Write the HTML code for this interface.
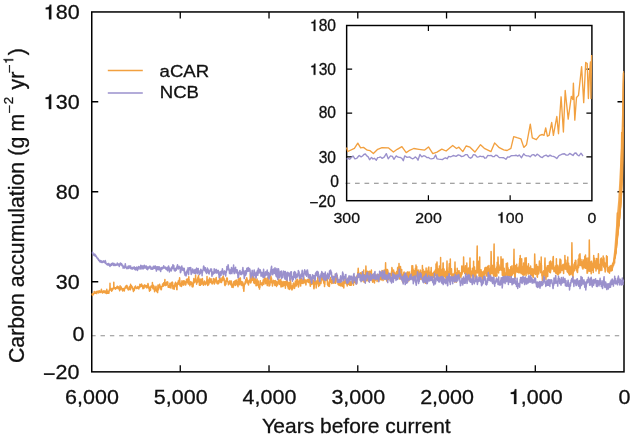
<!DOCTYPE html>
<html><head><meta charset="utf-8"><style>
html,body{margin:0;padding:0;background:#fff;width:632px;height:438px;overflow:hidden}
text{font-family:"Liberation Sans", sans-serif}
svg{will-change:transform}
</style></head><body>
<svg width="632" height="438" viewBox="0 0 632 438" style="display:block"><rect width="632" height="438" fill="#fff"/><line x1="91.2" y1="335.75" x2="623.0" y2="335.75" stroke="#8e8e8e" stroke-width="1.05" stroke-dasharray="4.4 4.95"/><rect x="91.75" y="11.95" width="532.25" height="359.90000000000003" fill="none" stroke="#000" stroke-width="1.5"/><path d="M180.26 371.85V365.35M180.26 11.95V18.45M269.02 371.85V365.35M269.02 11.95V18.45M357.78 371.85V365.35M357.78 11.95V18.45M446.54 371.85V365.35M446.54 11.95V18.45M535.30 371.85V365.35M535.30 11.95V18.45M91.75 101.75H98.25M624.0 101.75H617.5M91.75 191.75H98.25M624.0 191.75H617.5M91.75 281.75H98.25M624.0 281.75H617.5" stroke="#000" stroke-width="1.3" fill="none"/><polyline fill="none" stroke="#F2A03F" stroke-width="1.5" stroke-linejoin="round" points="92.0,294.1 92.2,294.8 92.3,294.0 92.4,293.4 92.6,295.4 92.7,294.9 92.8,294.4 93.0,294.3 93.1,294.7 93.2,293.7 93.4,293.8 93.5,293.7 93.6,294.0 93.8,293.9 93.9,293.4 94.0,292.9 94.2,291.6 94.3,292.6 94.4,291.9 94.6,292.0 94.7,293.2 94.8,292.9 95.0,293.2 95.1,292.9 95.2,293.2 95.4,293.1 95.5,292.6 95.6,293.3 95.8,292.9 95.9,292.0 96.0,291.9 96.2,292.3 96.3,291.6 96.4,292.2 96.6,292.5 96.7,293.6 96.8,292.7 97.0,292.8 97.1,291.6 97.2,291.4 97.4,291.6 97.5,291.9 97.6,291.8 97.8,291.7 97.9,291.4 98.0,291.2 98.2,291.5 98.3,291.8 98.4,292.1 98.6,292.5 98.7,292.9 98.8,291.4 99.0,291.1 99.1,291.1 99.2,290.8 99.4,291.5 99.5,291.9 99.6,291.6 99.8,291.6 99.9,292.2 100.0,291.7 100.2,291.3 100.3,291.8 100.4,291.8 100.6,292.4 100.7,292.2 100.8,292.2 101.0,291.5 101.1,290.8 101.2,290.8 101.4,289.3 101.5,290.0 101.6,290.8 101.8,290.9 101.9,290.8 102.0,291.5 102.2,291.4 102.3,291.9 102.4,292.9 102.5,292.8 102.7,292.9 102.8,292.6 102.9,292.4 103.1,292.2 103.2,291.9 103.3,292.4 103.5,291.1 103.6,291.0 103.7,291.5 103.9,291.0 104.0,291.0 104.1,290.7 104.3,291.2 104.4,291.8 104.5,292.5 104.7,292.5 104.8,291.8 104.9,291.9 105.1,292.2 105.2,293.0 105.3,291.4 105.5,291.9 105.6,290.9 105.7,291.7 105.9,292.2 106.0,292.6 106.1,293.1 106.3,293.2 106.4,292.7 106.5,292.9 106.7,293.6 106.8,289.3 106.9,293.3 107.1,292.6 107.2,293.3 107.3,292.7 107.5,292.1 107.6,291.8 107.7,291.3 107.9,291.3 108.0,292.1 108.1,292.4 108.3,292.9 108.4,293.3 108.5,292.0 108.7,291.9 108.8,292.4 108.9,293.2 109.1,291.5 109.2,290.2 109.3,290.4 109.5,290.0 109.6,289.3 109.7,289.6 109.9,289.0 110.0,283.3 110.1,288.2 110.3,288.7 110.4,289.4 110.5,290.0 110.7,290.0 110.8,289.8 110.9,289.3 111.1,288.4 111.2,288.5 111.3,289.5 111.5,290.0 111.6,291.2 111.7,290.6 111.9,289.3 112.0,289.9 112.1,290.5 112.3,289.6 112.4,288.7 112.5,289.1 112.6,289.8 112.8,289.1 112.9,289.0 113.0,288.7 113.2,288.2 113.3,287.7 113.4,288.3 113.6,288.4 113.7,288.2 113.8,282.2 114.0,288.6 114.1,288.1 114.2,288.3 114.4,287.8 114.5,288.3 114.6,287.5 114.8,287.9 114.9,288.0 115.0,288.7 115.2,287.9 115.3,287.7 115.4,287.7 115.6,289.2 115.7,287.9 115.8,288.2 116.0,287.7 116.1,288.0 116.2,288.3 116.4,288.3 116.5,288.3 116.6,288.2 116.8,287.7 116.9,287.5 117.0,286.4 117.2,286.4 117.3,286.2 117.4,286.3 117.6,287.2 117.7,287.6 117.8,287.9 118.0,288.6 118.1,286.8 118.2,287.4 118.4,287.6 118.5,287.6 118.6,286.9 118.8,287.6 118.9,288.5 119.0,289.1 119.2,288.8 119.3,289.1 119.4,289.5 119.6,290.4 119.7,290.7 119.8,290.1 120.0,289.7 120.1,285.7 120.2,289.4 120.4,288.8 120.5,289.3 120.6,288.7 120.8,288.2 120.9,288.6 121.0,288.3 121.2,288.3 121.3,287.1 121.4,288.2 121.6,288.4 121.7,288.5 121.8,288.9 122.0,289.1 122.1,288.6 122.2,290.1 122.4,289.5 122.5,290.0 122.6,291.0 122.7,290.1 122.9,289.9 123.0,289.2 123.1,289.9 123.3,289.3 123.4,288.4 123.5,289.4 123.7,289.7 123.8,288.7 123.9,289.4 124.1,289.2 124.2,290.7 124.3,291.0 124.5,289.7 124.6,289.0 124.7,288.0 124.9,288.0 125.0,287.9 125.1,288.2 125.3,288.0 125.4,286.8 125.5,286.3 125.7,287.5 125.8,288.1 125.9,287.6 126.1,287.2 126.2,286.9 126.3,286.8 126.5,285.5 126.6,286.6 126.7,286.5 126.9,287.0 127.0,285.6 127.1,286.6 127.3,288.1 127.4,286.8 127.5,288.5 127.7,289.0 127.8,288.7 127.9,287.9 128.1,289.3 128.2,289.8 128.3,290.0 128.5,289.6 128.6,288.8 128.7,289.5 128.9,288.6 129.0,289.2 129.1,287.9 129.3,287.4 129.4,286.6 129.5,288.0 129.7,286.8 129.8,286.3 129.9,287.2 130.1,287.5 130.2,289.0 130.3,289.8 130.5,289.5 130.6,284.3 130.7,287.3 130.9,286.6 131.0,286.4 131.1,286.4 131.3,285.8 131.4,285.7 131.5,285.7 131.7,287.1 131.8,287.7 131.9,287.6 132.1,287.7 132.2,288.1 132.3,287.8 132.5,287.9 132.6,287.0 132.7,288.2 132.8,289.2 133.0,289.5 133.1,289.9 133.2,290.1 133.4,291.5 133.5,291.0 133.6,289.6 133.8,288.7 133.9,289.3 134.0,290.0 134.2,290.2 134.3,290.4 134.4,290.0 134.6,288.6 134.7,288.1 134.8,286.9 135.0,287.1 135.1,286.5 135.2,287.0 135.4,287.2 135.5,286.1 135.6,287.2 135.8,287.9 135.9,286.9 136.0,287.2 136.2,287.8 136.3,287.5 136.4,288.1 136.6,288.0 136.7,288.5 136.8,288.3 137.0,287.9 137.1,288.1 137.2,288.4 137.4,288.3 137.5,287.6 137.6,287.0 137.8,286.8 137.9,286.5 138.0,286.9 138.2,287.1 138.3,287.1 138.4,287.1 138.6,287.3 138.7,288.4 138.8,288.9 139.0,287.9 139.1,288.0 139.2,287.5 139.4,287.3 139.5,287.0 139.6,286.5 139.8,285.7 139.9,284.2 140.0,285.2 140.2,286.6 140.3,286.0 140.4,286.6 140.6,286.4 140.7,286.7 140.8,286.1 141.0,286.2 141.1,286.3 141.2,284.6 141.4,285.4 141.5,285.7 141.6,284.1 141.8,285.4 141.9,285.7 142.0,286.2 142.2,286.6 142.3,286.3 142.4,285.6 142.6,285.5 142.7,285.5 142.8,287.6 142.9,288.8 143.1,287.8 143.2,287.1 143.3,287.3 143.5,287.5 143.6,286.7 143.7,285.9 143.9,287.7 144.0,288.3 144.1,286.6 144.3,285.2 144.4,285.0 144.5,285.7 144.7,286.5 144.8,286.3 144.9,285.1 145.1,285.8 145.2,286.7 145.3,286.7 145.5,286.4 145.6,287.0 145.7,287.0 145.9,286.0 146.0,286.4 146.1,285.4 146.3,286.7 146.4,287.2 146.5,286.3 146.7,286.7 146.8,287.9 146.9,285.8 147.1,286.0 147.2,287.7 147.3,286.2 147.5,286.3 147.6,285.3 147.7,285.7 147.9,284.0 148.0,283.5 148.1,284.1 148.3,285.1 148.4,286.0 148.5,286.7 148.7,287.8 148.8,288.2 148.9,288.6 149.1,287.2 149.2,287.0 149.3,290.0 149.5,291.2 149.6,290.7 149.7,290.3 149.9,290.3 150.0,289.0 150.1,290.3 150.3,289.1 150.4,288.5 150.5,290.2 150.7,287.5 150.8,287.9 150.9,286.2 151.1,286.0 151.2,286.4 151.3,286.5 151.5,287.1 151.6,286.6 151.7,286.9 151.9,286.1 152.0,286.3 152.1,285.5 152.3,286.9 152.4,282.5 152.5,287.4 152.7,287.3 152.8,287.3 152.9,288.8 153.0,288.8 153.2,286.8 153.3,287.8 153.4,285.2 153.6,286.4 153.7,286.7 153.8,285.9 154.0,286.8 154.1,287.1 154.2,289.6 154.4,288.9 154.5,290.8 154.6,291.7 154.8,290.2 154.9,289.0 155.0,290.3 155.2,289.8 155.3,289.7 155.4,289.2 155.6,287.9 155.7,287.9 155.8,287.3 156.0,286.2 156.1,286.8 156.2,289.4 156.4,291.0 156.5,290.4 156.6,290.2 156.8,290.5 156.9,291.6 157.0,291.2 157.2,290.0 157.3,289.3 157.4,290.3 157.6,292.6 157.7,290.7 157.8,287.8 158.0,285.0 158.1,288.6 158.2,288.6 158.4,289.8 158.5,289.3 158.6,287.4 158.8,285.4 158.9,286.0 159.0,285.2 159.2,286.2 159.3,285.1 159.4,285.4 159.6,284.3 159.7,284.8 159.8,285.0 160.0,286.2 160.1,287.9 160.2,287.4 160.4,286.2 160.5,288.6 160.6,288.4 160.8,288.5 160.9,288.6 161.0,289.6 161.2,289.8 161.3,289.5 161.4,289.4 161.6,287.5 161.7,286.4 161.8,286.2 162.0,286.2 162.1,286.2 162.2,286.5 162.4,286.3 162.5,285.7 162.6,283.9 162.8,285.4 162.9,286.1 163.0,285.0 163.1,285.7 163.3,286.1 163.4,286.0 163.5,283.7 163.7,282.8 163.8,282.9 163.9,285.5 164.1,284.4 164.2,284.2 164.3,283.2 164.5,283.2 164.6,284.1 164.7,282.0 164.9,279.5 165.0,281.9 165.1,282.8 165.3,282.7 165.4,284.4 165.5,285.6 165.7,282.8 165.8,283.1 165.9,284.8 166.1,283.9 166.2,283.7 166.3,285.2 166.5,284.7 166.6,283.3 166.7,282.9 166.9,281.9 167.0,283.4 167.1,281.8 167.3,283.9 167.4,282.2 167.5,283.1 167.7,281.9 167.8,282.4 167.9,284.4 168.1,285.9 168.2,287.2 168.3,286.4 168.5,286.1 168.6,286.0 168.7,286.4 168.9,285.5 169.0,286.6 169.1,286.5 169.3,287.4 169.4,287.2 169.5,287.4 169.7,285.7 169.8,284.9 169.9,283.3 170.1,283.4 170.2,283.6 170.3,285.0 170.5,283.4 170.6,287.8 170.7,286.8 170.9,287.7 171.0,288.1 171.1,284.0 171.3,283.9 171.4,286.0 171.5,282.6 171.7,284.2 171.8,283.3 171.9,283.2 172.1,283.9 172.2,281.9 172.3,283.0 172.5,282.8 172.6,282.5 172.7,284.1 172.9,288.8 173.0,288.1 173.1,287.8 173.2,286.9 173.4,285.4 173.5,285.7 173.6,287.4 173.8,287.0 173.9,287.5 174.0,286.5 174.2,289.3 174.3,286.0 174.4,286.5 174.6,286.8 174.7,286.7 174.8,284.9 175.0,283.5 175.1,283.7 175.2,284.3 175.4,283.0 175.5,282.3 175.6,283.9 175.8,285.6 175.9,284.7 176.0,283.9 176.2,283.3 176.3,287.1 176.4,287.1 176.6,286.4 176.7,287.3 176.8,289.6 177.0,289.7 177.1,286.4 177.2,285.9 177.4,285.1 177.5,284.6 177.6,283.1 177.8,283.1 177.9,282.2 178.0,283.4 178.2,283.9 178.3,282.2 178.4,280.7 178.6,281.3 178.7,283.1 178.8,284.2 179.0,284.2 179.1,279.9 179.2,280.6 179.4,280.7 179.5,281.3 179.6,277.7 179.8,281.0 179.9,281.1 180.0,285.6 180.2,286.0 180.3,285.1 180.4,284.6 180.6,284.2 180.7,284.3 180.8,283.5 181.0,283.5 181.1,284.8 181.2,285.5 181.4,285.3 181.5,286.4 181.6,285.8 181.8,283.6 181.9,281.1 182.0,280.7 182.2,281.3 182.3,282.3 182.4,283.9 182.6,282.8 182.7,281.7 182.8,283.1 183.0,284.6 183.1,283.3 183.2,283.6 183.3,285.2 183.5,284.9 183.6,284.1 183.7,280.8 183.9,283.2 184.0,283.9 184.1,283.7 184.3,282.8 184.4,281.0 184.5,281.4 184.7,281.7 184.8,283.5 184.9,281.6 185.1,284.0 185.2,283.7 185.3,285.1 185.5,283.0 185.6,283.5 185.7,285.0 185.9,284.5 186.0,282.0 186.1,281.8 186.3,282.9 186.4,280.9 186.5,279.5 186.7,280.9 186.8,280.2 186.9,282.0 187.1,280.6 187.2,278.8 187.3,279.0 187.5,282.3 187.6,281.3 187.7,281.8 187.9,282.6 188.0,281.4 188.1,283.5 188.3,283.6 188.4,284.1 188.5,281.5 188.7,279.5 188.8,276.7 188.9,278.4 189.1,279.5 189.2,281.7 189.3,284.3 189.5,283.6 189.6,283.1 189.7,283.8 189.9,285.8 190.0,283.9 190.1,284.6 190.3,283.8 190.4,283.1 190.5,284.3 190.7,282.8 190.8,281.4 190.9,282.8 191.1,282.9 191.2,282.5 191.3,282.5 191.5,283.3 191.6,282.6 191.7,283.8 191.9,284.1 192.0,285.8 192.1,286.7 192.3,286.7 192.4,285.2 192.5,284.5 192.7,283.0 192.8,287.0 192.9,285.3 193.1,285.2 193.2,286.3 193.3,283.0 193.4,281.5 193.6,281.1 193.7,279.9 193.8,278.6 194.0,278.9 194.1,281.7 194.2,282.8 194.4,282.6 194.5,282.4 194.6,279.7 194.8,281.4 194.9,282.1 195.0,280.4 195.2,281.1 195.3,281.0 195.4,280.4 195.6,275.1 195.7,279.0 195.8,278.4 196.0,280.1 196.1,281.1 196.2,281.7 196.4,281.4 196.5,280.9 196.6,284.2 196.8,280.6 196.9,282.7 197.0,282.9 197.2,282.6 197.3,281.5 197.4,281.2 197.6,279.5 197.7,278.0 197.8,278.8 198.0,277.1 198.1,279.6 198.2,281.8 198.4,276.4 198.5,275.5 198.6,277.7 198.8,279.0 198.9,279.9 199.0,280.9 199.2,282.1 199.3,283.2 199.4,285.3 199.6,284.1 199.7,284.5 199.8,281.0 200.0,280.8 200.1,279.0 200.2,281.8 200.4,285.2 200.5,284.8 200.6,281.7 200.8,281.4 200.9,281.4 201.0,281.7 201.2,283.3 201.3,284.2 201.4,279.3 201.6,282.1 201.7,281.2 201.8,280.4 202.0,283.0 202.1,282.2 202.2,280.0 202.4,278.5 202.5,279.6 202.6,281.7 202.8,284.2 202.9,283.3 203.0,282.2 203.2,284.7 203.3,283.3 203.4,285.3 203.5,284.8 203.7,284.5 203.8,283.5 203.9,283.7 204.1,282.6 204.2,281.6 204.3,281.7 204.5,281.0 204.6,282.0 204.7,282.3 204.9,282.1 205.0,282.0 205.1,281.8 205.3,284.8 205.4,284.2 205.5,282.8 205.7,282.4 205.8,283.5 205.9,283.0 206.1,282.7 206.2,282.3 206.3,282.7 206.5,283.3 206.6,283.8 206.7,280.9 206.9,279.8 207.0,276.6 207.1,279.6 207.3,282.2 207.4,284.3 207.5,284.0 207.7,285.4 207.8,284.5 207.9,283.7 208.1,281.0 208.2,280.2 208.3,280.0 208.5,282.2 208.6,284.8 208.7,283.4 208.9,283.7 209.0,283.8 209.1,282.2 209.3,279.6 209.4,279.3 209.5,278.0 209.7,278.9 209.8,279.7 209.9,280.2 210.1,280.6 210.2,281.9 210.3,280.6 210.5,282.5 210.6,279.9 210.7,280.7 210.9,281.8 211.0,280.7 211.1,278.7 211.3,280.8 211.4,280.1 211.5,282.0 211.7,283.2 211.8,282.8 211.9,282.6 212.1,283.9 212.2,283.9 212.3,281.9 212.5,282.1 212.6,282.9 212.7,282.8 212.9,282.8 213.0,282.2 213.1,281.8 213.3,280.3 213.4,278.4 213.5,281.1 213.6,280.2 213.8,280.9 213.9,278.7 214.0,279.7 214.2,278.9 214.3,284.1 214.4,281.7 214.6,280.0 214.7,281.8 214.8,283.3 215.0,279.4 215.1,280.3 215.2,281.9 215.4,279.8 215.5,281.2 215.6,280.4 215.8,279.0 215.9,279.1 216.0,279.0 216.2,277.5 216.3,282.1 216.4,281.1 216.6,280.0 216.7,281.7 216.8,281.4 217.0,283.4 217.1,282.4 217.2,282.6 217.4,282.4 217.5,282.3 217.6,281.7 217.8,281.4 217.9,284.0 218.0,282.2 218.2,281.1 218.3,280.7 218.4,281.8 218.6,282.3 218.7,283.4 218.8,280.8 219.0,281.3 219.1,281.1 219.2,280.7 219.4,281.1 219.5,278.1 219.6,279.5 219.8,280.2 219.9,278.3 220.0,279.0 220.2,282.1 220.3,281.2 220.4,282.1 220.6,281.4 220.7,280.1 220.8,278.9 221.0,278.9 221.1,281.5 221.2,282.6 221.4,281.0 221.5,282.5 221.6,281.8 221.8,280.5 221.9,281.2 222.0,279.7 222.2,277.6 222.3,280.6 222.4,277.8 222.6,279.5 222.7,277.5 222.8,278.5 223.0,278.8 223.1,278.7 223.2,276.0 223.4,277.2 223.5,278.2 223.6,277.6 223.7,278.4 223.9,280.7 224.0,279.6 224.1,280.3 224.3,278.7 224.4,279.9 224.5,281.2 224.7,284.9 224.8,285.1 224.9,284.5 225.1,285.6 225.2,282.7 225.3,283.8 225.5,282.2 225.6,280.9 225.7,282.7 225.9,282.6 226.0,284.2 226.1,281.1 226.3,281.6 226.4,280.8 226.5,280.6 226.7,278.0 226.8,280.5 226.9,281.2 227.1,279.9 227.2,278.4 227.3,278.1 227.5,281.4 227.6,281.5 227.7,281.2 227.9,282.2 228.0,282.3 228.1,282.7 228.3,283.7 228.4,283.9 228.5,284.8 228.7,282.3 228.8,282.5 228.9,282.0 229.1,282.4 229.2,282.5 229.3,281.6 229.5,281.5 229.6,283.4 229.7,282.4 229.9,280.7 230.0,282.3 230.1,284.0 230.3,283.3 230.4,283.4 230.5,282.0 230.7,282.0 230.8,284.0 230.9,285.0 231.1,284.6 231.2,283.7 231.3,281.0 231.5,282.1 231.6,283.1 231.7,284.6 231.9,287.2 232.0,286.5 232.1,286.9 232.3,284.0 232.4,285.5 232.5,286.0 232.7,287.1 232.8,286.8 232.9,286.3 233.1,287.5 233.2,285.0 233.3,285.3 233.5,286.1 233.6,283.9 233.7,281.7 233.8,282.6 234.0,282.8 234.1,283.6 234.2,284.3 234.4,282.5 234.5,283.0 234.6,284.6 234.8,283.4 234.9,282.6 235.0,280.8 235.2,282.5 235.3,285.5 235.4,282.4 235.6,283.6 235.7,284.6 235.8,283.0 236.0,282.2 236.1,280.7 236.2,280.0 236.4,280.9 236.5,282.3 236.6,282.5 236.8,283.7 236.9,283.6 237.0,281.4 237.2,283.9 237.3,285.2 237.4,283.2 237.6,281.9 237.7,285.3 237.8,284.5 238.0,286.7 238.1,281.5 238.2,279.2 238.4,281.2 238.5,281.0 238.6,279.9 238.8,278.5 238.9,283.3 239.0,281.0 239.2,280.3 239.3,282.1 239.4,284.7 239.6,280.8 239.7,281.6 239.8,281.1 240.0,278.7 240.1,279.4 240.2,277.7 240.4,278.2 240.5,281.8 240.6,282.7 240.8,283.7 240.9,284.1 241.0,284.1 241.2,285.0 241.3,282.4 241.4,281.8 241.6,283.3 241.7,281.9 241.8,281.4 242.0,283.6 242.1,285.6 242.2,283.8 242.4,282.2 242.5,283.3 242.6,283.6 242.8,282.3 242.9,283.4 243.0,284.1 243.2,283.9 243.3,288.2 243.4,288.7 243.6,288.3 243.7,288.3 243.8,291.3 243.9,290.5 244.1,287.2 244.2,286.5 244.3,285.6 244.5,284.0 244.6,284.1 244.7,284.2 244.9,283.7 245.0,282.8 245.1,284.1 245.3,281.3 245.4,283.0 245.5,283.0 245.7,283.3 245.8,279.5 245.9,283.0 246.1,280.2 246.2,279.6 246.3,281.4 246.5,280.8 246.6,280.6 246.7,277.7 246.9,278.4 247.0,279.8 247.1,281.5 247.3,281.2 247.4,281.8 247.5,282.5 247.7,281.3 247.8,280.3 247.9,283.7 248.1,281.8 248.2,283.7 248.3,283.2 248.5,285.0 248.6,282.9 248.7,283.3 248.9,283.2 249.0,282.3 249.1,282.5 249.3,281.0 249.4,280.9 249.5,280.4 249.7,281.8 249.8,281.5 249.9,279.2 250.1,279.2 250.2,279.6 250.3,274.0 250.5,277.1 250.6,281.9 250.7,282.9 250.9,281.1 251.0,280.4 251.1,282.1 251.3,279.5 251.4,280.5 251.5,280.7 251.7,279.9 251.8,280.3 251.9,278.8 252.1,279.7 252.2,278.1 252.3,276.9 252.5,280.2 252.6,279.2 252.7,276.4 252.9,279.2 253.0,278.4 253.1,273.7 253.3,275.7 253.4,278.6 253.5,279.8 253.7,282.8 253.8,282.0 253.9,282.6 254.0,280.5 254.2,280.9 254.3,283.3 254.4,283.4 254.6,283.0 254.7,279.4 254.8,279.4 255.0,278.0 255.1,280.2 255.2,279.5 255.4,280.7 255.5,279.4 255.6,283.1 255.8,280.9 255.9,281.4 256.0,285.7 256.2,285.0 256.3,282.8 256.4,283.6 256.6,284.8 256.7,285.5 256.8,281.5 257.0,282.2 257.1,279.1 257.2,283.2 257.4,283.2 257.5,282.4 257.6,283.6 257.8,284.2 257.9,282.1 258.0,284.9 258.2,284.1 258.3,281.1 258.4,283.9 258.6,286.2 258.7,287.3 258.8,287.0 259.0,284.5 259.1,285.7 259.2,287.9 259.4,287.9 259.5,289.1 259.6,286.2 259.8,287.0 259.9,287.4 260.0,283.9 260.2,281.2 260.3,280.8 260.4,281.7 260.6,282.9 260.7,282.7 260.8,282.8 261.0,282.8 261.1,283.0 261.2,284.0 261.4,284.5 261.5,284.0 261.6,284.1 261.8,283.1 261.9,284.3 262.0,283.1 262.2,285.6 262.3,284.7 262.4,284.5 262.6,282.8 262.7,282.2 262.8,282.6 263.0,282.6 263.1,281.6 263.2,280.0 263.4,280.8 263.5,281.5 263.6,282.6 263.8,284.5 263.9,283.3 264.0,279.8 264.1,280.3 264.3,278.0 264.4,277.2 264.5,275.4 264.7,281.7 264.8,280.8 264.9,280.2 265.1,280.6 265.2,278.3 265.3,280.2 265.5,280.2 265.6,283.7 265.7,281.5 265.9,283.3 266.0,278.2 266.1,283.6 266.3,281.6 266.4,282.9 266.5,282.0 266.7,280.8 266.8,281.0 266.9,282.1 267.1,282.8 267.2,285.1 267.3,285.6 267.5,280.4 267.6,280.3 267.7,277.8 267.9,278.5 268.0,280.6 268.1,279.0 268.3,278.1 268.4,279.6 268.5,279.9 268.7,283.1 268.8,283.3 268.9,283.8 269.1,286.1 269.2,284.1 269.3,283.5 269.5,281.5 269.6,282.0 269.7,283.6 269.9,285.3 270.0,284.2 270.1,282.4 270.3,281.0 270.4,279.0 270.5,280.0 270.7,282.6 270.8,278.6 270.9,276.0 271.1,279.9 271.2,277.8 271.3,279.4 271.5,278.0 271.6,280.3 271.7,281.9 271.9,282.0 272.0,283.1 272.1,282.7 272.3,283.2 272.4,285.5 272.5,286.0 272.7,283.6 272.8,281.6 272.9,281.2 273.1,280.9 273.2,281.2 273.3,280.3 273.5,281.7 273.6,281.7 273.7,282.3 273.9,282.1 274.0,282.9 274.1,280.7 274.3,283.5 274.4,283.6 274.5,283.8 274.6,284.2 274.8,285.2 274.9,285.4 275.0,284.8 275.2,283.7 275.3,280.6 275.4,281.5 275.6,281.2 275.7,281.1 275.8,285.3 276.0,281.5 276.1,281.9 276.2,284.0 276.4,285.1 276.5,286.4 276.6,283.3 276.8,281.6 276.9,282.9 277.0,282.5 277.2,285.3 277.3,285.0 277.4,284.7 277.6,284.9 277.7,283.9 277.8,283.9 278.0,282.6 278.1,282.7 278.2,282.0 278.4,282.8 278.5,280.6 278.6,279.0 278.8,281.0 278.9,282.0 279.0,280.8 279.2,281.1 279.3,280.0 279.4,284.2 279.6,281.3 279.7,284.6 279.8,282.8 280.0,283.5 280.1,282.9 280.2,282.3 280.4,284.0 280.5,285.0 280.6,283.9 280.8,279.6 280.9,285.6 281.0,287.0 281.2,286.0 281.3,284.5 281.4,284.4 281.6,284.0 281.7,285.5 281.8,283.1 282.0,283.0 282.1,281.6 282.2,284.0 282.4,286.4 282.5,285.1 282.6,285.2 282.8,286.6 282.9,284.9 283.0,282.7 283.2,284.3 283.3,284.6 283.4,283.6 283.6,285.7 283.7,285.1 283.8,281.5 284.0,282.4 284.1,282.4 284.2,285.5 284.4,284.7 284.5,283.8 284.6,284.3 284.7,284.3 284.9,281.7 285.0,282.4 285.1,282.1 285.3,284.8 285.4,288.2 285.5,285.1 285.7,283.1 285.8,282.0 285.9,281.5 286.1,281.2 286.2,282.1 286.3,284.5 286.5,282.4 286.6,280.5 286.7,278.8 286.9,282.3 287.0,285.2 287.1,282.6 287.3,280.7 287.4,282.2 287.5,284.8 287.7,286.5 287.8,286.4 287.9,287.2 288.1,287.2 288.2,285.7 288.3,288.7 288.5,287.7 288.6,285.3 288.7,284.6 288.9,282.5 289.0,283.4 289.1,285.9 289.3,283.8 289.4,286.2 289.5,289.4 289.7,288.9 289.8,286.1 289.9,284.7 290.1,284.4 290.2,282.7 290.3,281.6 290.5,278.8 290.6,283.0 290.7,284.7 290.9,283.0 291.0,286.7 291.1,288.0 291.3,288.6 291.4,286.5 291.5,288.9 291.7,287.2 291.8,289.5 291.9,289.9 292.1,287.0 292.2,285.7 292.3,288.5 292.5,289.0 292.6,287.6 292.7,287.1 292.9,286.8 293.0,285.0 293.1,284.6 293.3,283.6 293.4,283.3 293.5,284.5 293.7,283.0 293.8,284.7 293.9,284.9 294.1,286.1 294.2,287.1 294.3,288.4 294.5,288.3 294.6,288.3 294.7,286.9 294.8,287.1 295.0,284.9 295.1,284.4 295.2,285.6 295.4,281.1 295.5,285.6 295.6,283.5 295.8,285.9 295.9,284.4 296.0,285.0 296.2,284.6 296.3,285.9 296.4,284.7 296.6,282.8 296.7,280.0 296.8,280.6 297.0,279.6 297.1,281.6 297.2,284.5 297.4,280.5 297.5,279.3 297.6,280.9 297.8,283.6 297.9,283.9 298.0,284.1 298.2,284.6 298.3,285.0 298.4,287.0 298.6,286.7 298.7,283.5 298.8,282.4 299.0,282.8 299.1,281.4 299.2,281.3 299.4,280.8 299.5,280.1 299.6,281.9 299.8,281.4 299.9,279.9 300.0,279.5 300.2,280.4 300.3,284.3 300.4,284.1 300.6,286.0 300.7,285.6 300.8,281.1 301.0,282.1 301.1,280.7 301.2,279.0 301.4,278.2 301.5,282.3 301.6,279.7 301.8,279.4 301.9,282.1 302.0,283.2 302.2,280.1 302.3,280.5 302.4,280.2 302.6,280.4 302.7,282.1 302.8,281.2 303.0,280.9 303.1,283.6 303.2,280.1 303.4,280.1 303.5,281.4 303.6,279.5 303.8,279.2 303.9,277.8 304.0,279.2 304.2,278.9 304.3,281.0 304.4,282.8 304.6,282.5 304.7,281.6 304.8,281.9 304.9,281.8 305.1,279.7 305.2,281.9 305.3,282.0 305.5,283.0 305.6,280.2 305.7,281.8 305.9,285.0 306.0,284.8 306.1,281.2 306.3,281.1 306.4,280.9 306.5,281.2 306.7,280.6 306.8,281.4 306.9,280.4 307.1,280.8 307.2,279.6 307.3,280.1 307.5,281.8 307.6,280.7 307.7,281.7 307.9,279.9 308.0,279.5 308.1,279.5 308.3,281.9 308.4,280.3 308.5,282.4 308.7,279.5 308.8,279.6 308.9,281.5 309.1,282.5 309.2,280.4 309.3,278.6 309.5,280.8 309.6,278.8 309.7,280.5 309.9,279.9 310.0,280.4 310.1,284.5 310.3,286.2 310.4,286.2 310.5,282.6 310.7,282.9 310.8,282.7 310.9,282.3 311.1,284.4 311.2,280.9 311.3,281.9 311.5,282.2 311.6,281.0 311.7,284.3 311.9,281.7 312.0,282.0 312.1,282.3 312.3,278.9 312.4,277.7 312.5,277.6 312.7,280.5 312.8,282.8 312.9,283.9 313.1,284.0 313.2,280.1 313.3,281.4 313.5,281.1 313.6,283.7 313.7,285.8 313.9,288.7 314.0,288.3 314.1,288.2 314.3,285.0 314.4,284.7 314.5,282.3 314.7,284.1 314.8,282.0 314.9,282.1 315.0,281.1 315.2,281.1 315.3,282.6 315.4,281.9 315.6,282.7 315.7,281.3 315.8,284.3 316.0,282.9 316.1,284.8 316.2,287.9 316.4,282.5 316.5,281.1 316.6,281.4 316.8,283.9 316.9,282.9 317.0,283.6 317.2,282.2 317.3,283.4 317.4,281.2 317.6,283.1 317.7,278.0 317.8,276.3 318.0,281.2 318.1,281.9 318.2,280.6 318.4,284.8 318.5,285.7 318.6,286.5 318.8,284.5 318.9,284.8 319.0,284.7 319.2,281.1 319.3,282.2 319.4,281.7 319.6,283.7 319.7,285.2 319.8,282.9 320.0,281.3 320.1,281.5 320.2,282.4 320.4,281.3 320.5,280.9 320.6,281.8 320.8,282.1 320.9,283.6 321.0,283.0 321.2,280.7 321.3,277.6 321.4,279.7 321.6,279.2 321.7,278.8 321.8,278.6 322.0,276.4 322.1,276.7 322.2,273.2 322.4,274.5 322.5,274.5 322.6,279.1 322.8,279.9 322.9,279.4 323.0,279.7 323.2,280.8 323.3,279.1 323.4,278.8 323.6,278.4 323.7,282.9 323.8,282.0 324.0,278.0 324.1,279.8 324.2,284.1 324.4,281.2 324.5,286.6 324.6,284.4 324.8,284.8 324.9,282.4 325.0,281.2 325.1,278.8 325.3,277.5 325.4,274.7 325.5,278.4 325.7,277.1 325.8,278.8 325.9,279.9 326.1,279.1 326.2,279.8 326.3,280.0 326.5,279.5 326.6,280.1 326.7,280.6 326.9,279.1 327.0,277.7 327.1,277.5 327.3,279.0 327.4,282.2 327.5,284.6 327.7,284.3 327.8,285.3 327.9,284.5 328.1,285.7 328.2,284.9 328.3,284.8 328.5,283.6 328.6,283.2 328.7,286.2 328.9,283.1 329.0,282.9 329.1,281.8 329.3,283.7 329.4,286.4 329.5,284.7 329.7,279.4 329.8,281.4 329.9,282.8 330.1,279.9 330.2,280.3 330.3,280.9 330.5,277.4 330.6,280.1 330.7,281.6 330.9,282.3 331.0,280.5 331.1,279.9 331.3,279.6 331.4,281.3 331.5,279.9 331.7,283.1 331.8,283.5 331.9,279.4 332.1,283.1 332.2,283.1 332.3,281.9 332.5,282.1 332.6,279.0 332.7,280.2 332.9,276.5 333.0,276.4 333.1,280.3 333.3,282.9 333.4,282.0 333.5,280.3 333.7,282.3 333.8,282.0 333.9,282.2 334.1,283.1 334.2,280.8 334.3,282.4 334.5,278.5 334.6,281.9 334.7,279.0 334.9,278.7 335.0,278.3 335.1,280.5 335.2,282.0 335.4,282.4 335.5,283.0 335.6,283.3 335.8,282.6 335.9,279.0 336.0,275.7 336.2,273.5 336.3,275.8 336.4,277.1 336.6,278.2 336.7,279.6 336.8,279.8 337.0,278.7 337.1,277.0 337.2,275.2 337.4,279.3 337.5,281.7 337.6,279.4 337.8,279.7 337.9,281.2 338.0,284.3 338.2,282.6 338.3,282.9 338.4,284.7 338.6,281.0 338.7,280.2 338.8,280.9 339.0,280.1 339.1,284.6 339.2,285.5 339.4,285.0 339.5,282.7 339.6,284.3 339.8,284.9 339.9,283.4 340.0,282.5 340.2,280.1 340.3,280.8 340.4,283.0 340.6,284.7 340.7,285.2 340.8,285.9 341.0,284.0 341.1,282.9 341.2,285.0 341.4,285.1 341.5,283.1 341.6,283.9 341.8,285.0 341.9,285.5 342.0,284.9 342.2,283.3 342.3,283.8 342.4,286.4 342.6,285.5 342.7,283.5 342.8,283.8 343.0,281.2 343.1,282.0 343.2,281.6 343.4,283.5 343.5,283.3 343.6,284.8 343.8,288.0 343.9,285.9 344.0,283.3 344.2,283.7 344.3,283.1 344.4,283.0 344.6,281.6 344.7,282.7 344.8,282.6 345.0,278.6 345.1,279.2 345.2,280.6 345.3,283.1 345.5,281.8 345.6,280.4 345.7,282.9 345.9,281.6 346.0,282.0 346.1,282.8 346.3,283.9 346.4,283.4 346.5,281.2 346.7,283.3 346.8,282.3 346.9,281.4 347.1,285.2 347.2,285.9 347.3,283.1 347.5,282.2 347.6,281.9 347.7,280.9 347.9,278.2 348.0,281.0 348.1,283.0 348.3,283.5 348.4,282.7 348.5,283.3 348.7,284.5 348.8,282.4 348.9,282.2 349.1,281.7 349.2,283.5 349.3,284.1 349.5,281.8 349.6,281.5 349.7,285.3 349.9,283.3 350.0,283.9 350.1,282.8 350.3,285.3 350.4,284.8 350.5,283.7 350.7,281.7 350.8,281.8 350.9,283.8 351.1,284.9 351.2,282.1 351.3,285.2 351.5,284.2 351.6,282.0 351.7,282.6 351.9,281.6 352.0,281.0 352.1,280.4 352.3,280.9 352.4,280.5 352.5,278.1 352.7,280.3 352.8,279.9 352.9,282.6 353.1,283.3 353.2,283.9 353.3,283.6 353.5,285.2 353.6,283.5 353.7,281.1 353.9,281.7 354.0,276.8 354.1,277.3 354.3,278.7 354.4,278.5 354.5,281.3 354.7,282.2 354.8,281.8 354.9,280.5 355.1,282.2 355.2,280.2 355.3,279.3 355.4,280.6 355.6,281.2 355.7,283.3 355.8,282.1 356.0,277.3 356.1,279.2 356.2,281.1 356.4,279.7 356.5,282.2 356.6,284.0 356.8,280.8 356.9,278.9 357.0,275.7 357.2,277.9 357.3,278.5 357.4,279.5 357.6,275.3 357.7,274.3 357.8,272.4 358.0,271.4 358.1,270.2 358.2,268.3 358.4,271.3 358.5,273.2 358.6,275.9 358.8,275.5 358.9,275.0 359.0,273.2 359.2,277.0 359.3,274.0 359.4,274.9 359.6,274.7 359.7,275.3 359.8,274.1 360.0,273.6 360.1,276.2 360.2,274.0 360.4,275.5 360.5,272.8 360.6,276.9 360.8,275.9 360.9,277.0 361.0,275.1 361.2,274.5 361.3,274.7 361.4,275.6 361.6,281.0 361.7,275.2 361.8,279.9 362.0,273.7 362.1,271.9 362.2,279.6 362.4,279.8 362.5,280.1 362.6,279.3 362.8,278.7 362.9,279.0 363.0,280.7 363.2,274.8 363.3,276.8 363.4,275.0 363.6,275.1 363.7,269.9 363.8,278.3 364.0,279.0 364.1,282.2 364.2,279.8 364.4,280.3 364.5,274.8 364.6,275.0 364.8,276.9 364.9,282.0 365.0,281.8 365.2,281.6 365.3,276.6 365.4,274.5 365.5,274.6 365.7,274.1 365.8,269.7 365.9,266.0 366.1,271.0 366.2,274.7 366.3,280.8 366.5,280.5 366.6,278.0 366.7,280.0 366.9,280.1 367.0,278.7 367.1,277.0 367.3,277.3 367.4,271.2 367.5,272.0 367.7,273.4 367.8,273.0 367.9,271.4 368.1,278.0 368.2,278.9 368.3,281.3 368.5,275.7 368.6,278.7 368.7,276.4 368.9,277.5 369.0,274.7 369.1,275.9 369.3,277.2 369.4,271.2 369.5,274.1 369.7,271.9 369.8,274.8 369.9,275.6 370.1,276.0 370.2,271.4 370.3,273.1 370.5,274.7 370.6,275.2 370.7,277.1 370.9,272.4 371.0,275.9 371.1,276.0 371.3,277.7 371.4,269.9 371.5,278.6 371.7,278.2 371.8,277.0 371.9,277.4 372.1,279.0 372.2,281.0 372.3,278.1 372.5,277.7 372.6,280.3 372.7,282.2 372.9,281.1 373.0,276.5 373.1,279.5 373.3,277.9 373.4,281.7 373.5,280.7 373.7,279.8 373.8,280.1 373.9,275.5 374.1,276.8 374.2,277.2 374.3,278.3 374.5,282.9 374.6,280.3 374.7,274.5 374.9,278.6 375.0,279.2 375.1,280.5 375.3,280.0 375.4,275.6 375.5,278.6 375.6,276.9 375.8,275.0 375.9,279.6 376.0,276.8 376.2,279.1 376.3,275.9 376.4,277.2 376.6,275.7 376.7,275.8 376.8,275.2 377.0,280.7 377.1,281.4 377.2,277.1 377.4,277.3 377.5,279.3 377.6,278.1 377.8,278.0 377.9,278.8 378.0,279.7 378.2,277.4 378.3,277.7 378.4,278.1 378.6,274.6 378.7,277.5 378.8,281.0 379.0,280.3 379.1,280.3 379.2,278.0 379.4,275.8 379.5,279.2 379.6,279.3 379.8,275.0 379.9,277.0 380.0,273.5 380.2,278.5 380.3,276.3 380.4,276.5 380.6,277.0 380.7,279.6 380.8,278.8 381.0,277.6 381.1,279.3 381.2,279.9 381.4,275.7 381.5,275.7 381.6,274.7 381.8,274.3 381.9,277.8 382.0,270.6 382.2,274.0 382.3,272.8 382.4,279.6 382.6,278.9 382.7,277.7 382.8,277.3 383.0,277.9 383.1,280.6 383.2,275.8 383.4,277.2 383.5,272.0 383.6,279.0 383.8,278.6 383.9,270.2 384.0,275.4 384.2,274.2 384.3,273.2 384.4,274.4 384.6,273.8 384.7,269.9 384.8,273.4 385.0,278.4 385.1,276.4 385.2,278.8 385.4,272.3 385.5,267.3 385.6,262.7 385.7,268.9 385.9,273.5 386.0,279.3 386.1,268.9 386.3,278.9 386.4,279.9 386.5,279.0 386.7,281.0 386.8,274.4 386.9,274.2 387.1,274.8 387.2,275.1 387.3,277.8 387.5,269.4 387.6,272.6 387.7,272.9 387.9,270.7 388.0,274.5 388.1,274.6 388.3,275.0 388.4,279.6 388.5,275.3 388.7,273.4 388.8,276.6 388.9,276.9 389.1,275.9 389.2,276.9 389.3,278.6 389.5,278.4 389.6,276.5 389.7,275.0 389.9,276.3 390.0,277.3 390.1,273.6 390.3,277.5 390.4,280.1 390.5,277.1 390.7,276.7 390.8,279.2 390.9,279.4 391.1,273.3 391.2,273.9 391.3,273.7 391.5,274.8 391.6,271.2 391.7,274.6 391.9,267.6 392.0,269.7 392.1,268.2 392.3,275.3 392.4,272.8 392.5,272.1 392.7,270.2 392.8,271.8 392.9,273.2 393.1,274.6 393.2,273.8 393.3,272.7 393.5,272.9 393.6,270.1 393.7,272.5 393.9,272.3 394.0,272.0 394.1,273.2 394.3,274.5 394.4,278.2 394.5,273.1 394.7,275.3 394.8,272.6 394.9,274.5 395.1,275.5 395.2,277.9 395.3,276.1 395.5,276.4 395.6,274.4 395.7,275.7 395.8,274.6 396.0,274.9 396.1,276.3 396.2,276.7 396.4,276.3 396.5,274.9 396.6,271.5 396.8,275.3 396.9,276.6 397.0,276.1 397.2,279.0 397.3,272.4 397.4,276.4 397.6,267.8 397.7,275.9 397.8,275.4 398.0,267.2 398.1,274.3 398.2,273.5 398.4,275.2 398.5,276.6 398.6,275.8 398.8,272.9 398.9,267.9 399.0,263.5 399.2,269.3 399.3,272.5 399.4,275.8 399.6,279.0 399.7,275.1 399.8,277.2 400.0,275.0 400.1,269.8 400.2,268.5 400.4,270.7 400.5,266.6 400.6,269.8 400.8,272.7 400.9,276.2 401.0,277.2 401.2,279.0 401.3,276.5 401.4,276.8 401.6,278.0 401.7,269.6 401.8,277.1 402.0,277.2 402.1,276.7 402.2,274.8 402.4,281.4 402.5,281.3 402.6,276.6 402.8,278.9 402.9,282.6 403.0,277.0 403.2,277.4 403.3,277.5 403.4,276.9 403.6,273.6 403.7,272.7 403.8,275.4 404.0,272.7 404.1,271.9 404.2,274.6 404.4,277.0 404.5,274.7 404.6,275.9 404.8,274.2 404.9,279.6 405.0,277.1 405.2,280.4 405.3,281.5 405.4,279.5 405.6,278.6 405.7,275.2 405.8,278.6 405.9,278.2 406.1,275.7 406.2,274.5 406.3,273.7 406.5,275.6 406.6,273.0 406.7,276.5 406.9,275.5 407.0,274.2 407.1,273.1 407.3,272.1 407.4,272.8 407.5,272.7 407.7,277.0 407.8,272.3 407.9,272.0 408.1,274.8 408.2,273.3 408.3,272.9 408.5,280.1 408.6,274.8 408.7,281.0 408.9,278.3 409.0,280.2 409.1,275.1 409.3,272.0 409.4,275.2 409.5,276.2 409.7,278.5 409.8,277.5 409.9,277.0 410.1,278.9 410.2,278.5 410.3,278.8 410.5,277.5 410.6,279.2 410.7,278.8 410.9,273.9 411.0,277.4 411.1,275.2 411.3,273.3 411.4,273.0 411.5,271.1 411.7,276.9 411.8,271.1 411.9,265.7 412.1,266.0 412.2,269.2 412.3,274.1 412.5,269.8 412.6,273.1 412.7,265.7 412.9,273.5 413.0,274.8 413.1,269.1 413.3,279.0 413.4,279.7 413.5,278.7 413.7,275.5 413.8,275.8 413.9,272.2 414.1,270.4 414.2,276.1 414.3,275.7 414.5,275.8 414.6,276.5 414.7,279.7 414.9,277.1 415.0,276.1 415.1,277.9 415.3,275.5 415.4,268.2 415.5,276.2 415.7,271.5 415.8,273.1 415.9,268.7 416.0,265.0 416.2,270.0 416.3,273.7 416.4,271.8 416.6,274.5 416.7,266.5 416.8,276.3 417.0,275.6 417.1,277.1 417.2,273.6 417.4,273.5 417.5,274.3 417.6,272.8 417.8,274.8 417.9,273.7 418.0,273.3 418.2,270.0 418.3,275.1 418.4,274.8 418.6,272.1 418.7,273.8 418.8,278.1 419.0,273.2 419.1,277.3 419.2,279.2 419.4,280.1 419.5,271.8 419.6,279.7 419.8,279.5 419.9,275.6 420.0,276.9 420.2,270.0 420.3,274.6 420.4,275.5 420.6,270.5 420.7,275.5 420.8,273.7 421.0,276.0 421.1,279.3 421.2,279.0 421.4,273.1 421.5,276.1 421.6,274.9 421.8,275.4 421.9,276.7 422.0,273.9 422.2,276.8 422.3,277.7 422.4,265.6 422.6,278.3 422.7,278.2 422.8,279.6 423.0,273.8 423.1,269.2 423.2,278.4 423.4,280.5 423.5,277.0 423.6,277.7 423.8,272.0 423.9,279.9 424.0,281.5 424.2,281.8 424.3,279.9 424.4,276.9 424.6,271.3 424.7,278.3 424.8,280.5 425.0,279.6 425.1,279.7 425.2,280.3 425.4,283.3 425.5,278.3 425.6,277.5 425.8,271.2 425.9,274.7 426.0,272.8 426.1,268.0 426.3,273.7 426.4,274.7 426.5,271.7 426.7,272.2 426.8,277.1 426.9,277.5 427.1,275.1 427.2,275.7 427.3,273.0 427.5,277.9 427.6,276.3 427.7,270.7 427.9,271.4 428.0,275.0 428.1,271.7 428.3,268.0 428.4,273.2 428.5,273.9 428.7,272.5 428.8,267.1 428.9,270.9 429.1,273.7 429.2,272.2 429.3,274.3 429.5,274.0 429.6,272.8 429.7,276.0 429.9,274.2 430.0,272.2 430.1,277.6 430.3,280.4 430.4,278.0 430.5,279.1 430.7,273.8 430.8,278.7 430.9,271.9 431.1,269.8 431.2,267.4 431.3,276.1 431.5,274.6 431.6,273.8 431.7,273.2 431.9,272.8 432.0,276.6 432.1,275.3 432.3,275.9 432.4,277.2 432.5,273.8 432.7,273.9 432.8,274.9 432.9,273.7 433.1,275.6 433.2,274.4 433.3,274.2 433.5,277.4 433.6,277.1 433.7,272.3 433.9,274.7 434.0,272.3 434.1,274.9 434.3,275.5 434.4,271.3 434.5,274.0 434.7,274.7 434.8,272.3 434.9,275.4 435.1,273.8 435.2,274.3 435.3,272.2 435.5,269.8 435.6,269.5 435.7,274.4 435.9,272.0 436.0,263.9 436.1,273.7 436.2,270.6 436.4,276.4 436.5,277.3 436.6,271.8 436.8,270.4 436.9,266.4 437.0,262.0 437.2,267.9 437.3,272.3 437.4,275.7 437.6,274.4 437.7,274.4 437.8,277.3 438.0,273.9 438.1,271.7 438.2,278.1 438.4,279.5 438.5,268.9 438.6,276.1 438.8,271.3 438.9,270.2 439.0,272.2 439.2,271.3 439.3,275.1 439.4,266.0 439.6,272.7 439.7,274.5 439.8,273.1 440.0,274.6 440.1,278.2 440.2,276.0 440.4,276.5 440.5,275.3 440.6,257.4 440.8,275.9 440.9,272.8 441.0,272.9 441.2,275.4 441.3,270.2 441.4,273.5 441.6,272.6 441.7,269.9 441.8,279.0 442.0,275.4 442.1,274.3 442.2,278.7 442.4,276.5 442.5,274.0 442.6,268.6 442.8,271.2 442.9,271.1 443.0,262.9 443.2,263.0 443.3,276.1 443.4,276.0 443.6,273.8 443.7,269.8 443.8,269.1 444.0,276.8 444.1,268.9 444.2,274.4 444.4,274.4 444.5,275.2 444.6,276.1 444.8,273.1 444.9,272.2 445.0,276.4 445.2,276.6 445.3,276.4 445.4,275.4 445.6,276.9 445.7,278.0 445.8,271.3 446.0,276.1 446.1,279.2 446.2,279.8 446.4,278.4 446.5,280.8 446.6,280.6 446.7,271.0 446.9,265.6 447.0,261.0 447.1,267.2 447.3,271.8 447.4,278.8 447.5,272.9 447.7,276.2 447.8,274.1 447.9,277.7 448.1,276.1 448.2,275.6 448.3,271.4 448.5,273.1 448.6,275.4 448.7,273.4 448.9,272.1 449.0,267.4 449.1,270.3 449.3,263.7 449.4,272.2 449.5,273.7 449.7,273.9 449.8,272.6 449.9,268.7 450.1,273.7 450.2,273.0 450.3,259.0 450.5,271.6 450.6,270.6 450.7,272.8 450.9,274.3 451.0,272.0 451.1,273.2 451.3,273.5 451.4,277.3 451.5,268.7 451.7,275.1 451.8,275.5 451.9,276.4 452.1,274.2 452.2,279.0 452.3,277.9 452.5,275.8 452.6,277.3 452.7,276.8 452.9,274.0 453.0,275.3 453.1,277.5 453.3,275.4 453.4,274.4 453.5,274.1 453.7,277.7 453.8,275.3 453.9,278.9 454.1,274.1 454.2,278.5 454.3,275.7 454.5,272.5 454.6,281.9 454.7,271.2 454.9,266.3 455.0,262.0 455.1,267.7 455.3,271.9 455.4,277.9 455.5,277.0 455.7,276.6 455.8,272.6 455.9,274.4 456.1,280.2 456.2,282.2 456.3,281.0 456.5,281.7 456.6,276.7 456.7,276.1 456.8,274.1 457.0,277.5 457.1,275.8 457.2,268.3 457.4,271.2 457.5,272.5 457.6,277.2 457.8,273.9 457.9,272.9 458.0,278.9 458.2,277.3 458.3,275.2 458.4,271.0 458.6,276.3 458.7,278.4 458.8,275.9 459.0,276.5 459.1,270.7 459.2,273.6 459.4,275.0 459.5,272.7 459.6,273.9 459.8,276.9 459.9,273.2 460.0,273.4 460.2,273.1 460.3,274.8 460.4,276.0 460.6,275.6 460.7,273.6 460.8,275.0 461.0,277.2 461.1,272.5 461.2,275.6 461.4,275.1 461.5,272.2 461.6,272.1 461.8,265.9 461.9,271.3 462.0,274.2 462.2,273.0 462.3,269.9 462.4,269.8 462.6,272.2 462.7,271.1 462.8,272.0 463.0,266.1 463.1,271.8 463.2,269.7 463.4,270.2 463.5,266.4 463.6,256.9 463.8,265.6 463.9,267.5 464.0,269.0 464.2,270.2 464.3,271.8 464.4,269.4 464.6,271.8 464.7,273.4 464.8,269.5 465.0,273.4 465.1,271.2 465.2,270.5 465.4,267.7 465.5,265.7 465.6,268.1 465.8,269.1 465.9,269.3 466.0,270.6 466.2,274.3 466.3,273.7 466.4,274.3 466.6,272.5 466.7,274.7 466.8,263.0 466.9,267.0 467.1,273.7 467.2,273.1 467.3,273.4 467.5,269.7 467.6,273.2 467.7,272.2 467.9,271.9 468.0,275.9 468.1,274.5 468.3,274.0 468.4,275.6 468.5,268.1 468.7,279.3 468.8,278.9 468.9,274.5 469.1,279.1 469.2,279.9 469.3,276.1 469.5,280.5 469.6,276.3 469.7,268.9 469.9,263.0 470.0,258.0 470.1,264.7 470.3,269.7 470.4,272.9 470.5,276.6 470.7,274.6 470.8,278.2 470.9,273.9 471.1,271.9 471.2,271.2 471.3,272.1 471.5,275.4 471.6,272.3 471.7,273.0 471.9,271.1 472.0,272.8 472.1,274.0 472.3,275.8 472.4,268.3 472.5,273.7 472.7,273.8 472.8,272.9 472.9,272.3 473.1,272.4 473.2,275.1 473.3,273.0 473.5,270.2 473.6,261.3 473.7,272.8 473.9,270.5 474.0,275.6 474.1,274.0 474.3,267.6 474.4,267.3 474.5,266.9 474.7,269.8 474.8,274.4 474.9,276.9 475.1,271.8 475.2,278.4 475.3,278.2 475.5,277.8 475.6,274.4 475.7,277.5 475.9,274.1 476.0,272.6 476.1,270.6 476.3,273.0 476.4,271.8 476.5,271.8 476.7,272.7 476.8,272.8 476.9,264.1 477.0,254.4 477.2,246.0 477.3,257.1 477.4,265.5 477.6,272.9 477.7,266.3 477.8,270.1 478.0,264.9 478.1,272.5 478.2,268.7 478.4,268.7 478.5,261.3 478.6,264.7 478.8,267.4 478.9,268.3 479.0,275.9 479.2,273.7 479.3,276.4 479.4,277.7 479.6,274.4 479.7,257.0 479.8,270.7 480.0,274.9 480.1,277.8 480.2,272.7 480.4,275.8 480.5,274.1 480.6,270.7 480.8,272.6 480.9,270.1 481.0,269.7 481.2,271.0 481.3,271.9 481.4,276.7 481.6,276.8 481.7,272.4 481.8,274.6 482.0,272.5 482.1,276.5 482.2,271.7 482.4,274.7 482.5,275.4 482.6,279.4 482.8,275.3 482.9,272.5 483.0,278.8 483.2,277.3 483.3,279.2 483.4,278.4 483.6,275.7 483.7,276.2 483.8,271.1 484.0,274.9 484.1,274.6 484.2,275.5 484.4,273.9 484.5,272.4 484.6,273.5 484.8,269.0 484.9,268.1 485.0,267.8 485.2,268.6 485.3,270.1 485.4,271.7 485.6,268.4 485.7,268.5 485.8,273.7 486.0,267.3 486.1,274.2 486.2,275.5 486.4,273.6 486.5,272.7 486.6,273.3 486.8,271.7 486.9,272.4 487.0,272.4 487.1,276.4 487.3,269.5 487.4,267.5 487.5,271.1 487.7,266.3 487.8,269.8 487.9,274.6 488.1,273.9 488.2,273.7 488.3,270.3 488.5,272.6 488.6,273.5 488.7,272.3 488.9,265.4 489.0,267.2 489.1,271.6 489.3,273.2 489.4,276.5 489.5,272.8 489.7,270.6 489.8,275.4 489.9,269.3 490.1,270.9 490.2,271.4 490.3,270.1 490.5,275.7 490.6,271.6 490.7,268.5 490.9,265.8 491.0,258.2 491.1,251.6 491.3,260.4 491.4,266.9 491.5,269.0 491.7,269.6 491.8,272.3 491.9,273.5 492.1,266.2 492.2,265.5 492.3,266.8 492.5,267.2 492.6,272.5 492.7,265.6 492.9,273.4 493.0,271.5 493.1,273.4 493.3,271.1 493.4,275.0 493.5,275.1 493.7,276.1 493.8,263.2 493.9,252.8 494.1,244.0 494.2,255.8 494.3,264.6 494.5,264.8 494.6,270.2 494.7,273.4 494.9,275.4 495.0,273.1 495.1,276.3 495.3,274.3 495.4,270.1 495.5,275.9 495.7,276.2 495.8,274.4 495.9,271.6 496.1,268.6 496.2,271.9 496.3,269.2 496.5,273.5 496.6,267.1 496.7,269.4 496.9,276.0 497.0,271.1 497.1,272.2 497.2,262.3 497.4,269.6 497.5,266.6 497.6,263.0 497.8,264.9 497.9,261.9 498.0,257.0 498.2,263.6 498.3,263.7 498.4,271.2 498.6,273.0 498.7,267.6 498.8,264.8 499.0,266.1 499.1,265.9 499.2,268.5 499.4,268.5 499.5,269.7 499.6,270.3 499.8,267.2 499.9,268.7 500.0,268.1 500.2,267.2 500.3,270.0 500.4,269.1 500.6,267.9 500.7,267.3 500.8,268.6 501.0,256.8 501.1,269.6 501.2,267.1 501.4,268.4 501.5,270.3 501.6,260.8 501.8,266.0 501.9,259.4 502.0,266.0 502.2,271.6 502.3,275.2 502.4,273.1 502.6,275.2 502.7,268.4 502.8,263.4 503.0,259.0 503.1,264.8 503.2,269.1 503.4,271.5 503.5,272.8 503.6,276.7 503.8,279.7 503.9,272.8 504.0,278.9 504.2,268.3 504.3,276.9 504.4,277.6 504.6,277.0 504.7,279.6 504.8,278.3 505.0,277.1 505.1,277.9 505.2,278.0 505.4,272.7 505.5,273.6 505.6,278.4 505.8,276.4 505.9,274.2 506.0,275.1 506.2,268.8 506.3,263.6 506.4,271.7 506.6,272.8 506.7,270.0 506.8,271.9 507.0,275.1 507.1,272.6 507.2,274.0 507.3,275.1 507.5,263.1 507.6,271.4 507.7,275.7 507.9,274.9 508.0,270.3 508.1,267.8 508.3,272.2 508.4,274.0 508.5,275.6 508.7,274.0 508.8,270.6 508.9,269.7 509.1,270.9 509.2,274.3 509.3,276.1 509.5,274.3 509.6,275.6 509.7,272.9 509.9,269.7 510.0,270.0 510.1,276.4 510.3,270.9 510.4,274.6 510.5,274.2 510.7,266.7 510.8,275.9 510.9,273.0 511.1,277.8 511.2,277.2 511.3,274.2 511.5,271.5 511.6,271.4 511.7,270.3 511.9,270.7 512.0,265.8 512.1,272.9 512.3,274.9 512.4,273.7 512.5,271.8 512.7,269.3 512.8,270.0 512.9,273.8 513.1,271.1 513.2,271.0 513.3,268.2 513.5,272.9 513.6,271.7 513.7,264.9 513.9,256.4 514.0,249.2 514.1,258.8 514.3,266.1 514.4,266.9 514.5,273.4 514.7,275.4 514.8,277.5 514.9,275.0 515.1,272.2 515.2,278.2 515.3,269.8 515.5,265.4 515.6,268.8 515.7,272.7 515.9,271.9 516.0,271.8 516.1,271.4 516.3,269.1 516.4,270.0 516.5,269.2 516.7,264.2 516.8,268.0 516.9,267.1 517.1,271.2 517.2,267.4 517.3,271.9 517.4,269.6 517.6,272.2 517.7,272.2 517.8,270.3 518.0,268.4 518.1,269.2 518.2,270.0 518.4,271.1 518.5,272.8 518.6,267.7 518.8,270.6 518.9,268.2 519.0,266.0 519.2,271.1 519.3,271.3 519.4,263.3 519.6,265.4 519.7,258.4 519.8,272.7 520.0,266.9 520.1,260.8 520.2,255.6 520.4,262.6 520.5,267.5 520.6,270.7 520.8,265.7 520.9,269.6 521.0,272.5 521.2,273.6 521.3,272.2 521.4,267.9 521.6,269.7 521.7,258.7 521.8,271.3 522.0,266.0 522.1,269.1 522.2,271.6 522.4,270.0 522.5,274.4 522.6,269.6 522.8,272.2 522.9,274.6 523.0,270.8 523.2,271.6 523.3,275.3 523.4,272.3 523.6,262.9 523.7,273.0 523.8,274.9 524.0,273.8 524.1,266.3 524.2,272.7 524.4,275.0 524.5,271.5 524.6,273.5 524.8,267.6 524.9,262.4 525.0,258.0 525.2,263.9 525.3,268.3 525.4,270.9 525.6,272.2 525.7,271.5 525.8,273.6 526.0,273.5 526.1,275.7 526.2,257.8 526.4,271.6 526.5,273.3 526.6,270.5 526.8,271.4 526.9,271.9 527.0,272.4 527.2,268.4 527.3,266.9 527.4,271.2 527.5,266.3 527.7,267.6 527.8,266.6 527.9,271.4 528.1,274.2 528.2,273.2 528.3,272.7 528.5,263.8 528.6,271.9 528.7,269.9 528.9,268.0 529.0,271.1 529.1,271.8 529.3,267.7 529.4,271.4 529.5,273.6 529.7,272.1 529.8,268.5 529.9,269.0 530.1,271.3 530.2,272.6 530.3,273.6 530.5,274.3 530.6,266.1 530.7,268.7 530.9,271.8 531.0,268.2 531.1,275.2 531.3,270.7 531.4,271.1 531.5,271.6 531.7,271.2 531.8,272.7 531.9,268.9 532.1,268.7 532.2,275.9 532.3,274.5 532.5,275.9 532.6,275.0 532.7,275.7 532.9,271.8 533.0,268.9 533.1,273.4 533.3,277.4 533.4,272.6 533.5,272.0 533.7,273.6 533.8,271.0 533.9,273.2 534.1,272.7 534.2,273.5 534.3,273.5 534.5,265.9 534.6,259.5 534.7,254.0 534.9,261.3 535.0,266.8 535.1,270.9 535.3,270.9 535.4,274.5 535.5,273.1 535.7,268.8 535.8,265.9 535.9,269.2 536.1,274.0 536.2,273.3 536.3,268.2 536.5,264.6 536.6,269.6 536.7,274.1 536.9,272.7 537.0,269.7 537.1,276.4 537.3,269.9 537.4,277.3 537.5,274.0 537.6,266.4 537.8,271.7 537.9,272.8 538.0,270.1 538.2,272.2 538.3,273.3 538.4,268.7 538.6,273.9 538.7,273.7 538.8,267.1 539.0,269.7 539.1,269.2 539.2,266.5 539.4,261.0 539.5,266.4 539.6,263.0 539.8,264.4 539.9,268.7 540.0,270.0 540.2,270.1 540.3,270.2 540.4,271.6 540.6,272.5 540.7,269.9 540.8,272.7 541.0,264.6 541.1,269.7 541.2,257.1 541.4,269.8 541.5,265.3 541.6,272.9 541.8,272.9 541.9,275.5 542.0,276.2 542.2,274.5 542.3,279.0 542.4,280.6 542.6,272.5 542.7,280.7 542.8,278.0 543.0,278.6 543.1,275.1 543.2,271.2 543.4,272.1 543.5,274.4 543.6,276.3 543.8,275.9 543.9,276.5 544.0,270.5 544.2,272.9 544.3,274.7 544.4,274.6 544.6,273.5 544.7,267.1 544.8,262.2 545.0,258.0 545.1,263.6 545.2,267.8 545.4,276.1 545.5,272.7 545.6,275.0 545.8,278.5 545.9,278.7 546.0,279.4 546.2,268.1 546.3,273.5 546.4,272.4 546.6,275.9 546.7,276.7 546.8,273.7 547.0,268.6 547.1,273.2 547.2,266.0 547.4,267.2 547.5,271.7 547.6,271.7 547.7,276.5 547.9,265.8 548.0,270.5 548.1,265.7 548.3,270.1 548.4,266.0 548.5,269.2 548.7,267.3 548.8,270.8 548.9,269.8 549.1,271.1 549.2,270.1 549.3,270.6 549.5,261.9 549.6,272.2 549.7,268.7 549.9,270.8 550.0,269.9 550.1,266.9 550.3,267.1 550.4,272.7 550.5,261.0 550.7,271.3 550.8,269.5 550.9,266.9 551.1,268.8 551.2,268.6 551.3,267.7 551.5,264.3 551.6,265.8 551.7,263.2 551.9,268.3 552.0,265.6 552.1,264.1 552.3,261.5 552.4,269.1 552.5,267.1 552.7,265.0 552.8,263.6 552.9,261.5 553.1,257.0 553.2,260.6 553.3,256.5 553.5,269.2 553.6,267.2 553.7,269.7 553.9,270.7 554.0,271.6 554.1,270.1 554.3,271.1 554.4,268.0 554.5,268.1 554.7,269.5 554.8,269.8 554.9,271.2 555.1,269.8 555.2,271.2 555.3,266.0 555.5,272.6 555.6,267.2 555.7,269.9 555.9,273.3 556.0,273.5 556.1,271.8 556.3,265.2 556.4,258.8 556.5,267.6 556.7,266.7 556.8,270.6 556.9,272.7 557.1,269.4 557.2,274.0 557.3,267.0 557.5,274.4 557.6,272.9 557.7,270.7 557.8,265.3 558.0,272.9 558.1,274.9 558.2,272.9 558.4,271.2 558.5,271.8 558.6,272.5 558.8,270.0 558.9,269.8 559.0,273.7 559.2,271.2 559.3,271.1 559.4,266.6 559.6,271.9 559.7,267.4 559.8,262.9 560.0,259.0 560.1,264.1 560.2,268.0 560.4,270.2 560.5,272.7 560.6,261.1 560.8,266.3 560.9,260.1 561.0,266.9 561.2,270.3 561.3,269.1 561.4,267.3 561.6,269.5 561.7,269.6 561.8,270.6 562.0,267.1 562.1,267.6 562.2,270.1 562.4,270.1 562.5,265.2 562.6,267.2 562.8,269.2 562.9,264.5 563.0,265.7 563.2,265.9 563.3,268.2 563.4,268.7 563.6,273.5 563.7,271.8 563.8,268.7 564.0,266.1 564.1,269.3 564.2,266.1 564.4,263.6 564.5,264.9 564.6,269.1 564.8,266.2 564.9,255.5 565.0,264.7 565.2,268.9 565.3,267.8 565.4,263.9 565.6,266.5 565.7,262.8 565.8,260.3 566.0,269.4 566.1,267.5 566.2,265.1 566.4,267.1 566.5,266.4 566.6,266.7 566.8,267.2 566.9,268.6 567.0,268.2 567.2,271.7 567.3,262.9 567.4,270.1 567.6,269.6 567.7,269.0 567.8,256.9 567.9,272.5 568.1,266.6 568.2,266.8 568.3,272.3 568.5,263.9 568.6,263.3 568.7,273.6 568.9,273.2 569.0,274.2 569.1,274.0 569.3,269.4 569.4,275.1 569.5,275.0 569.7,273.9 569.8,272.2 569.9,266.1 570.1,273.4 570.2,269.1 570.3,274.5 570.5,272.0 570.6,274.5 570.7,272.0 570.9,270.5 571.0,267.8 571.1,266.9 571.3,269.1 571.4,273.6 571.5,273.6 571.7,261.6 571.8,251.5 571.9,242.8 572.1,254.4 572.2,263.1 572.3,274.9 572.5,275.0 572.6,273.7 572.7,271.8 572.9,276.8 573.0,277.7 573.1,272.0 573.3,273.3 573.4,271.3 573.5,269.1 573.7,271.2 573.8,266.9 573.9,265.2 574.1,263.9 574.2,267.6 574.3,264.6 574.5,270.7 574.6,268.9 574.7,262.5 574.9,266.6 575.0,268.3 575.1,268.2 575.3,261.5 575.4,260.2 575.5,264.5 575.7,265.3 575.8,261.6 575.9,260.5 576.1,266.2 576.2,268.3 576.3,268.7 576.5,270.2 576.6,266.3 576.7,270.6 576.9,268.6 577.0,271.8 577.1,270.9 577.3,267.8 577.4,268.6 577.5,272.6 577.7,269.8 577.8,265.2 577.9,264.6 578.0,265.5 578.2,259.3 578.3,265.2 578.4,265.4 578.6,267.7 578.7,264.1 578.8,261.9 579.0,265.7 579.1,254.9 579.2,265.7 579.4,263.8 579.5,262.3 579.6,259.0 579.8,265.2 579.9,259.2 580.0,253.8 580.2,261.0 580.3,263.2 580.4,263.7 580.6,265.5 580.7,265.1 580.8,262.9 581.0,259.5 581.1,261.3 581.2,265.1 581.4,265.0 581.5,263.7 581.6,264.8 581.8,261.8 581.9,263.8 582.0,266.5 582.2,265.1 582.3,267.9 582.4,262.1 582.6,261.9 582.7,265.0 582.8,263.1 583.0,269.1 583.1,259.8 583.2,263.8 583.4,260.6 583.5,266.5 583.6,264.3 583.8,266.2 583.9,267.1 584.0,267.5 584.2,264.5 584.3,264.6 584.4,264.4 584.6,263.1 584.7,264.3 584.8,256.2 585.0,264.2 585.1,266.2 585.2,268.3 585.4,264.5 585.5,254.9 585.6,268.3 585.8,266.8 585.9,266.1 586.0,265.1 586.2,263.9 586.3,258.3 586.4,268.6 586.6,263.3 586.7,264.9 586.8,268.9 587.0,268.6 587.1,273.2 587.2,270.6 587.4,269.5 587.5,273.1 587.6,267.5 587.8,268.8 587.9,257.9 588.0,265.9 588.1,258.5 588.3,266.2 588.4,265.4 588.5,266.5 588.7,265.2 588.8,271.0 588.9,267.7 589.1,260.6 589.2,249.5 589.3,240.0 589.5,252.7 589.6,261.5 589.7,270.7 589.9,271.3 590.0,267.7 590.1,264.5 590.3,263.8 590.4,262.1 590.5,266.2 590.7,266.6 590.8,270.3 590.9,267.3 591.1,272.1 591.2,273.8 591.3,264.6 591.5,267.4 591.6,261.3 591.7,264.5 591.9,265.3 592.0,270.2 592.1,265.9 592.3,269.9 592.4,267.0 592.5,267.6 592.7,267.7 592.8,267.7 592.9,269.1 593.1,263.1 593.2,272.2 593.3,272.6 593.5,264.1 593.6,264.1 593.7,255.6 593.9,267.7 594.0,263.7 594.1,264.3 594.3,263.5 594.4,260.7 594.5,258.7 594.7,258.3 594.8,267.5 594.9,264.5 595.1,267.8 595.2,264.3 595.3,265.0 595.5,266.2 595.6,267.9 595.7,268.7 595.9,267.4 596.0,270.9 596.1,268.1 596.3,260.5 596.4,266.2 596.5,269.0 596.7,258.5 596.8,264.1 596.9,265.5 597.1,262.3 597.2,266.2 597.3,267.8 597.5,267.8 597.6,268.8 597.7,265.2 597.9,266.1 598.0,266.4 598.1,265.3 598.2,259.1 598.4,253.8 598.5,260.9 598.6,266.2 598.8,268.0 598.9,271.6 599.0,273.5 599.2,269.2 599.3,269.9 599.4,266.3 599.6,269.5 599.7,266.8 599.8,269.3 600.0,265.3 600.1,264.0 600.2,270.5 600.4,269.4 600.5,261.2 600.6,259.0 600.8,263.0 600.9,260.0 601.0,261.4 601.2,260.3 601.3,265.4 601.4,257.9 601.6,267.6 601.7,266.4 601.8,270.4 602.0,262.5 602.1,264.0 602.2,265.0 602.4,264.3 602.5,264.5 602.6,264.9 602.8,263.5 602.9,259.3 603.0,264.6 603.2,256.0 603.3,264.6 603.4,263.0 603.6,265.5 603.7,266.8 603.8,262.1 604.0,258.0 604.1,263.4 604.2,267.5 604.4,266.2 604.5,262.3 604.6,265.3 604.8,269.2 604.9,267.8 605.0,269.5 605.2,271.9 605.3,270.3 605.4,270.0 605.6,270.6 605.7,269.6 605.8,263.0 606.0,266.4 606.1,263.9 606.2,266.6 606.4,262.0 606.5,255.7 606.6,259.9 606.8,265.6 606.9,265.8 607.0,265.0 607.2,256.5 607.3,265.3 607.4,265.1 607.6,267.5 607.7,268.4 607.8,271.6 608.0,271.9 608.1,269.3 608.2,269.0 608.3,272.0 608.5,267.4 608.6,270.5 608.7,268.7 608.9,269.1 609.0,268.3 609.1,270.0 609.3,272.3 609.4,270.6 609.5,273.2 609.7,270.0 609.8,266.2 609.9,267.8 610.1,267.2 610.2,267.1 610.3,267.5 610.5,270.6 610.6,267.8 610.7,268.7 610.9,265.4 611.0,271.1 611.1,268.8 611.3,269.8 611.4,267.6 611.5,266.5 611.7,266.8 611.8,267.7 611.9,266.2 612.1,265.5 612.2,270.6 612.3,267.4 612.5,268.0 612.6,263.5 612.7,264.4 612.9,266.9 613.0,264.2 613.1,263.7 613.3,263.7 613.4,264.0 613.5,264.3 613.7,262.6 613.8,265.0 613.9,261.4 614.1,261.1 614.2,260.9 614.3,260.9 614.5,262.2 614.6,262.9 614.7,258.5 614.9,258.2 615.0,258.8 615.1,257.2 615.3,257.7 615.4,253.9 615.5,255.5 615.7,250.0 615.8,252.8 615.9,251.8 616.1,253.3 616.2,247.3 616.3,248.5 616.5,247.3 616.6,243.8 616.7,244.2 616.9,241.3 617.0,239.5 617.1,237.6 617.3,213.0 617.4,235.6 617.5,232.9 617.7,235.1 617.8,231.0 617.9,233.2 618.1,231.4 618.2,228.7 618.3,226.4 618.4,226.2 618.6,224.2 618.7,224.3 618.8,223.0 619.0,225.8 619.1,217.8 619.2,218.7 619.4,219.0 619.5,218.3 619.6,217.2 619.8,212.2 619.9,213.2 620.0,206.3 620.2,208.5 620.3,208.5 620.4,206.7 620.6,201.3 620.7,199.3 620.8,194.5 621.0,193.7 621.1,190.0 621.2,189.2 621.4,183.7 621.5,181.7 621.6,176.7 621.8,170.9 621.9,167.3 622.0,159.4 622.2,147.8 622.3,143.8 622.4,134.9 622.6,127.7 622.7,118.5 622.8,107.2 623.0,101.3 623.1,90.6 623.2,84.4 623.4,77.7 623.5,72.8"/><polyline fill="none" stroke="#F2A03F" stroke-width="1.2" stroke-linejoin="round" points="610.1,271.0 611.8,268.0 613.1,264.0 614.3,259.0 615.6,248.0 616.6,238.0 617.6,229.0 618.6,219.0 619.6,207.0 620.3,192.0 620.8,177.0 621.1,162.0 621.6,132.0"/><polyline fill="none" stroke="#F2A03F" stroke-width="1.2" stroke-linejoin="round" points="611.6,266.0 613.3,263.0 614.6,259.0 615.8,254.0 617.1,243.0 618.1,233.0 619.1,224.0 620.1,214.0 621.1,202.0 621.8,187.0 622.3,172.0 622.6,157.0 623.1,127.0"/><polygon fill="#F2A03F" fill-opacity="0.9" points="611.50,268.00 612.80,262.00 614.20,250.00 615.70,230.00 616.90,215.00 618.20,200.00 619.30,180.00 620.30,160.00 621.50,140.00 622.30,100.00 623.00,71.00 623.90,71.00 623.90,100.00 623.90,140.00 623.60,160.00 623.00,180.00 621.90,200.00 620.60,215.00 619.00,230.00 616.60,250.00 614.20,262.00 612.80,268.00"/><polyline fill="none" stroke="#9A90CC" stroke-width="1.5" stroke-linejoin="round" points="92.0,252.5 92.2,252.7 92.3,252.6 92.4,252.4 92.6,252.5 92.7,252.3 92.8,252.8 93.0,253.9 93.1,253.7 93.2,253.7 93.4,254.2 93.5,254.6 93.6,254.8 93.8,254.5 93.9,254.7 94.0,255.4 94.2,254.8 94.3,255.0 94.4,254.4 94.6,254.3 94.7,254.0 94.8,254.6 95.0,254.6 95.1,255.4 95.2,255.9 95.4,256.1 95.5,255.1 95.6,255.4 95.8,256.0 95.9,256.4 96.0,256.0 96.2,256.2 96.3,256.1 96.4,256.2 96.6,257.3 96.7,257.1 96.8,257.4 97.0,258.1 97.1,257.9 97.2,258.0 97.4,258.3 97.5,258.4 97.6,257.9 97.8,258.3 97.9,259.2 98.0,258.4 98.2,259.1 98.3,259.3 98.4,259.0 98.6,260.3 98.7,260.6 98.8,259.7 99.0,259.9 99.1,260.3 99.2,260.2 99.4,260.6 99.5,260.6 99.6,261.0 99.8,261.7 99.9,261.1 100.0,261.2 100.2,261.0 100.3,261.1 100.4,260.6 100.6,260.5 100.7,260.8 100.8,261.6 101.0,262.3 101.1,261.5 101.2,261.3 101.4,261.9 101.5,260.9 101.6,260.9 101.8,261.2 101.9,262.1 102.0,262.4 102.2,262.0 102.3,261.8 102.4,261.6 102.5,262.5 102.7,262.0 102.8,261.8 102.9,261.9 103.1,261.8 103.2,261.6 103.3,261.0 103.5,261.2 103.6,261.0 103.7,261.8 103.9,262.1 104.0,261.9 104.1,262.2 104.3,261.8 104.4,262.4 104.5,262.3 104.7,262.6 104.8,261.8 104.9,262.2 105.1,261.3 105.2,260.6 105.3,261.1 105.5,261.1 105.6,261.8 105.7,263.6 105.9,263.0 106.0,262.8 106.1,263.2 106.3,263.7 106.4,263.7 106.5,263.7 106.7,264.2 106.8,264.6 106.9,263.9 107.1,264.1 107.2,264.3 107.3,263.8 107.5,264.2 107.6,263.9 107.7,264.8 107.9,265.0 108.0,265.1 108.1,264.7 108.3,264.8 108.4,263.8 108.5,263.6 108.7,264.4 108.8,263.5 108.9,264.6 109.1,263.9 109.2,264.9 109.3,264.7 109.5,265.5 109.6,265.6 109.7,264.6 109.9,265.6 110.0,266.4 110.1,266.0 110.3,265.6 110.4,265.4 110.5,264.7 110.7,265.5 110.8,265.0 110.9,264.9 111.1,264.4 111.2,264.2 111.3,263.6 111.5,264.7 111.6,264.6 111.7,265.2 111.9,265.0 112.0,264.4 112.1,264.2 112.3,263.9 112.4,264.0 112.5,263.9 112.6,263.8 112.8,263.0 112.9,263.0 113.0,264.5 113.2,264.1 113.3,263.7 113.4,264.3 113.6,265.4 113.7,264.4 113.8,264.5 114.0,264.3 114.1,263.5 114.2,264.6 114.4,264.9 114.5,265.2 114.6,264.9 114.8,265.5 114.9,265.3 115.0,265.4 115.2,264.8 115.3,264.2 115.4,265.4 115.6,265.0 115.7,265.2 115.8,265.1 116.0,264.7 116.1,264.4 116.2,264.8 116.4,264.5 116.5,264.3 116.6,264.3 116.8,265.0 116.9,265.1 117.0,265.0 117.2,264.2 117.3,263.1 117.4,263.8 117.6,264.3 117.7,263.9 117.8,264.0 118.0,264.2 118.1,264.5 118.2,264.8 118.4,264.2 118.5,265.1 118.6,263.9 118.8,264.5 118.9,264.7 119.0,265.1 119.2,266.1 119.3,266.5 119.4,265.2 119.6,263.9 119.7,264.6 119.8,264.0 120.0,264.2 120.1,265.0 120.2,263.9 120.4,262.9 120.5,263.7 120.6,264.2 120.8,264.4 120.9,264.8 121.0,264.5 121.2,263.8 121.3,264.3 121.4,264.1 121.6,263.6 121.7,264.7 121.8,265.1 122.0,265.7 122.1,265.3 122.2,265.2 122.4,264.9 122.5,264.9 122.6,265.6 122.7,265.4 122.9,266.1 123.0,266.7 123.1,268.2 123.3,266.9 123.4,267.6 123.5,267.4 123.7,267.3 123.8,266.3 123.9,266.3 124.1,267.1 124.2,267.2 124.3,267.3 124.5,267.2 124.6,268.1 124.7,267.9 124.9,266.3 125.0,266.2 125.1,265.3 125.3,263.7 125.4,264.6 125.5,266.4 125.7,266.9 125.8,266.3 125.9,266.1 126.1,267.5 126.2,267.7 126.3,267.8 126.5,267.8 126.6,267.8 126.7,268.4 126.9,268.6 127.0,268.4 127.1,267.5 127.3,267.8 127.4,267.3 127.5,268.1 127.7,267.0 127.8,267.0 127.9,267.1 128.1,266.2 128.2,267.8 128.3,268.6 128.5,267.9 128.6,268.2 128.7,268.2 128.9,266.0 129.0,266.5 129.1,266.6 129.3,266.8 129.4,266.0 129.5,266.1 129.7,266.2 129.8,267.3 129.9,267.4 130.1,267.2 130.2,268.3 130.3,267.5 130.5,267.1 130.6,265.9 130.7,267.4 130.9,268.1 131.0,268.6 131.1,268.7 131.3,268.4 131.4,268.3 131.5,267.9 131.7,267.7 131.8,267.7 131.9,268.9 132.1,269.0 132.2,268.6 132.3,268.0 132.5,267.5 132.6,268.8 132.7,269.0 132.8,268.8 133.0,268.3 133.1,267.5 133.2,267.7 133.4,268.5 133.5,268.2 133.6,268.0 133.8,267.9 133.9,268.1 134.0,267.0 134.2,267.2 134.3,266.9 134.4,268.0 134.6,267.6 134.7,268.2 134.8,269.4 135.0,268.9 135.1,268.3 135.2,268.5 135.4,268.5 135.5,267.8 135.6,268.3 135.8,269.9 135.9,269.3 136.0,269.0 136.2,268.1 136.3,268.5 136.4,267.6 136.6,267.1 136.7,268.6 136.8,267.9 137.0,268.8 137.1,269.8 137.2,269.5 137.4,269.5 137.5,270.5 137.6,269.6 137.8,268.6 137.9,267.3 138.0,267.4 138.2,268.6 138.3,269.0 138.4,267.8 138.6,267.0 138.7,266.6 138.8,267.0 139.0,266.8 139.1,267.0 139.2,267.3 139.4,267.1 139.5,267.1 139.6,267.3 139.8,267.3 139.9,267.7 140.0,269.1 140.2,269.0 140.3,268.6 140.4,266.9 140.6,267.4 140.7,265.9 140.8,265.2 141.0,266.6 141.1,267.4 141.2,267.3 141.4,266.0 141.5,266.2 141.6,266.0 141.8,267.0 141.9,268.9 142.0,268.7 142.2,267.7 142.3,266.7 142.4,266.9 142.6,266.9 142.7,266.1 142.8,266.6 142.9,265.9 143.1,267.3 143.2,268.2 143.3,268.8 143.5,268.0 143.6,268.2 143.7,267.9 143.9,267.4 144.0,267.1 144.1,266.1 144.3,265.3 144.4,266.6 144.5,266.7 144.7,267.0 144.8,268.0 144.9,266.4 145.1,266.0 145.2,266.6 145.3,267.2 145.5,266.9 145.6,267.9 145.7,268.0 145.9,266.8 146.0,266.2 146.1,267.3 146.3,267.8 146.4,266.1 146.5,267.7 146.7,268.2 146.8,269.2 146.9,268.4 147.1,267.9 147.2,266.9 147.3,269.3 147.5,268.7 147.6,269.8 147.7,268.7 147.9,268.6 148.0,267.0 148.1,267.0 148.3,268.1 148.4,267.0 148.5,268.3 148.7,268.5 148.8,267.5 148.9,267.3 149.1,267.2 149.2,267.5 149.3,267.3 149.5,266.9 149.6,267.0 149.7,266.6 149.9,266.0 150.0,266.7 150.1,268.0 150.3,266.8 150.4,267.3 150.5,267.1 150.7,266.7 150.8,268.0 150.9,267.7 151.1,269.3 151.2,268.4 151.3,268.8 151.5,268.6 151.6,267.9 151.7,268.7 151.9,268.5 152.0,269.1 152.1,269.0 152.3,267.9 152.4,268.1 152.5,268.3 152.7,269.3 152.8,268.3 152.9,268.4 153.0,267.0 153.2,268.1 153.3,267.4 153.4,266.2 153.6,266.9 153.7,268.5 153.8,267.2 154.0,266.7 154.1,266.7 154.2,266.3 154.4,267.5 154.5,267.2 154.6,267.1 154.8,268.2 154.9,267.7 155.0,268.5 155.2,267.8 155.3,267.1 155.4,266.0 155.6,268.7 155.7,268.5 155.8,269.0 156.0,269.0 156.1,269.2 156.2,269.3 156.4,271.1 156.5,269.6 156.6,268.0 156.8,267.5 156.9,266.8 157.0,268.3 157.2,269.4 157.3,268.5 157.4,267.4 157.6,267.7 157.7,269.5 157.8,266.8 158.0,268.1 158.1,267.5 158.2,269.0 158.4,268.1 158.5,268.2 158.6,267.2 158.8,266.9 158.9,269.0 159.0,269.9 159.2,269.4 159.3,268.5 159.4,267.0 159.6,267.3 159.7,267.9 159.8,268.3 160.0,268.5 160.1,267.7 160.2,268.1 160.4,268.4 160.5,269.9 160.6,271.5 160.8,270.7 160.9,269.5 161.0,269.3 161.2,268.7 161.3,268.1 161.4,268.4 161.6,267.6 161.7,268.6 161.8,268.7 162.0,269.1 162.1,268.9 162.2,268.2 162.4,267.6 162.5,267.8 162.6,267.6 162.8,268.3 162.9,268.5 163.0,267.4 163.1,268.0 163.3,267.0 163.4,267.0 163.5,267.3 163.7,265.8 163.8,266.9 163.9,267.7 164.1,267.9 164.2,267.9 164.3,267.8 164.5,267.2 164.6,267.5 164.7,267.4 164.9,268.0 165.0,267.1 165.1,267.9 165.3,268.4 165.4,268.4 165.5,268.1 165.7,268.9 165.8,267.2 165.9,268.2 166.1,268.7 166.2,269.0 166.3,269.4 166.5,268.6 166.6,268.4 166.7,269.2 166.9,269.6 167.0,269.6 167.1,267.8 167.3,268.7 167.4,270.0 167.5,270.7 167.7,270.5 167.8,268.4 167.9,269.5 168.1,269.2 168.2,266.5 168.3,267.7 168.5,266.5 168.6,265.9 168.7,266.2 168.9,268.4 169.0,268.2 169.1,268.7 169.3,270.7 169.4,271.9 169.5,270.9 169.7,270.1 169.8,268.5 169.9,267.9 170.1,268.7 170.2,269.2 170.3,269.3 170.5,270.3 170.6,269.1 170.7,269.0 170.9,269.8 171.0,270.2 171.1,271.0 171.3,270.8 171.4,269.9 171.5,270.0 171.7,268.6 171.8,266.9 171.9,268.1 172.1,268.3 172.2,268.8 172.3,266.9 172.5,267.1 172.6,266.9 172.7,266.5 172.9,264.7 173.0,265.5 173.1,267.4 173.2,268.1 173.4,267.6 173.5,267.8 173.6,268.8 173.8,265.6 173.9,266.2 174.0,267.4 174.2,268.4 174.3,270.1 174.4,270.7 174.6,270.2 174.7,269.8 174.8,270.1 175.0,268.7 175.1,268.4 175.2,269.1 175.4,270.9 175.5,269.7 175.6,269.0 175.8,268.8 175.9,269.9 176.0,269.1 176.2,270.2 176.3,268.3 176.4,267.8 176.6,267.4 176.7,268.2 176.8,269.1 177.0,266.8 177.1,265.9 177.2,266.7 177.4,266.1 177.5,264.7 177.6,266.6 177.8,267.4 177.9,267.9 178.0,267.2 178.2,268.4 178.3,267.8 178.4,268.9 178.6,267.4 178.7,266.4 178.8,267.0 179.0,266.3 179.1,267.5 179.2,267.8 179.4,266.7 179.5,267.1 179.6,266.9 179.8,268.3 179.9,267.5 180.0,267.1 180.2,268.9 180.3,271.3 180.4,272.7 180.6,271.5 180.7,270.9 180.8,272.0 181.0,270.9 181.1,269.1 181.2,269.2 181.4,269.7 181.5,268.5 181.6,266.8 181.8,265.9 181.9,267.7 182.0,267.4 182.2,267.9 182.3,268.7 182.4,269.8 182.6,269.4 182.7,270.2 182.8,269.1 183.0,269.0 183.1,268.2 183.2,270.2 183.3,270.3 183.5,269.5 183.6,269.4 183.7,269.6 183.9,270.8 184.0,268.9 184.1,268.3 184.3,268.7 184.4,272.5 184.5,273.3 184.7,272.6 184.8,273.1 184.9,275.1 185.1,273.7 185.2,272.6 185.3,273.8 185.5,273.7 185.6,273.9 185.7,272.6 185.9,274.7 186.0,275.9 186.1,275.3 186.3,275.1 186.4,271.6 186.5,272.5 186.7,272.0 186.8,272.5 186.9,273.1 187.1,272.3 187.2,270.1 187.3,271.0 187.5,270.4 187.6,270.4 187.7,270.0 187.9,270.1 188.0,267.7 188.1,270.4 188.3,271.1 188.4,272.6 188.5,274.7 188.7,273.8 188.8,270.8 188.9,269.9 189.1,268.8 189.2,268.9 189.3,269.7 189.5,267.7 189.6,269.1 189.7,267.8 189.9,269.2 190.0,269.6 190.1,269.6 190.3,269.9 190.4,269.5 190.5,269.1 190.7,267.5 190.8,268.4 190.9,271.4 191.1,273.7 191.2,274.4 191.3,274.2 191.5,272.2 191.6,273.6 191.7,272.6 191.9,271.9 192.0,271.1 192.1,271.1 192.3,270.4 192.4,270.3 192.5,269.0 192.7,269.0 192.8,272.4 192.9,271.8 193.1,271.2 193.2,271.7 193.3,272.3 193.4,270.5 193.6,270.3 193.7,271.7 193.8,271.8 194.0,271.7 194.1,273.5 194.2,271.9 194.4,271.8 194.5,271.0 194.6,273.0 194.8,270.0 194.9,269.6 195.0,269.5 195.2,271.0 195.3,272.0 195.4,273.7 195.6,271.1 195.7,272.3 195.8,271.8 196.0,271.0 196.1,272.0 196.2,270.8 196.4,268.5 196.5,269.1 196.6,268.1 196.8,268.5 196.9,270.1 197.0,271.2 197.2,273.7 197.3,273.0 197.4,270.8 197.6,270.3 197.7,269.8 197.8,269.0 198.0,270.6 198.1,270.4 198.2,268.4 198.4,270.6 198.5,271.1 198.6,272.0 198.8,272.3 198.9,273.3 199.0,273.1 199.2,274.6 199.3,274.6 199.4,274.5 199.6,274.5 199.7,271.9 199.8,271.9 200.0,271.7 200.1,272.2 200.2,270.4 200.4,273.2 200.5,273.1 200.6,271.2 200.8,269.2 200.9,269.7 201.0,270.3 201.2,269.9 201.3,270.6 201.4,270.2 201.6,271.4 201.7,270.6 201.8,270.9 202.0,272.5 202.1,275.8 202.2,273.2 202.4,272.1 202.5,270.8 202.6,272.1 202.8,270.3 202.9,270.0 203.0,270.4 203.2,269.3 203.3,268.6 203.4,268.7 203.5,266.6 203.7,266.0 203.8,266.9 203.9,268.3 204.1,268.9 204.2,267.0 204.3,267.5 204.5,269.6 204.6,270.7 204.7,270.5 204.9,269.3 205.0,270.5 205.1,269.7 205.3,268.3 205.4,267.8 205.5,270.5 205.7,270.7 205.8,272.1 205.9,270.8 206.1,271.9 206.2,270.5 206.3,270.1 206.5,273.4 206.6,273.4 206.7,271.6 206.9,270.9 207.0,271.0 207.1,272.3 207.3,270.8 207.4,268.1 207.5,268.2 207.7,268.7 207.8,269.1 207.9,271.1 208.1,271.1 208.2,271.8 208.3,269.7 208.5,270.9 208.6,273.5 208.7,273.5 208.9,272.7 209.0,272.1 209.1,273.9 209.3,271.5 209.4,270.9 209.5,271.3 209.7,272.0 209.8,270.9 209.9,271.2 210.1,270.6 210.2,270.7 210.3,270.5 210.5,269.0 210.6,269.5 210.7,271.1 210.9,269.7 211.0,269.7 211.1,271.0 211.3,269.5 211.4,270.3 211.5,269.1 211.7,271.3 211.8,274.5 211.9,276.3 212.1,274.5 212.2,274.6 212.3,273.8 212.5,273.2 212.6,274.8 212.7,272.0 212.9,273.3 213.0,272.7 213.1,274.3 213.3,273.7 213.4,272.1 213.5,272.3 213.6,273.1 213.8,272.6 213.9,273.0 214.0,271.8 214.2,268.7 214.3,270.8 214.4,271.9 214.6,272.0 214.7,271.9 214.8,273.2 215.0,272.0 215.1,270.8 215.2,270.7 215.4,272.5 215.5,270.2 215.6,272.2 215.8,271.0 215.9,269.5 216.0,271.8 216.2,271.5 216.3,269.6 216.4,269.6 216.6,271.4 216.7,273.1 216.8,271.9 217.0,272.3 217.1,273.1 217.2,271.7 217.4,272.1 217.5,271.9 217.6,271.1 217.8,270.5 217.9,271.0 218.0,271.3 218.2,270.7 218.3,270.4 218.4,272.5 218.6,272.7 218.7,273.7 218.8,275.0 219.0,275.0 219.1,277.4 219.2,274.8 219.4,275.2 219.5,274.0 219.6,276.2 219.8,277.5 219.9,273.3 220.0,271.8 220.2,273.0 220.3,274.1 220.4,274.7 220.6,274.1 220.7,274.4 220.8,274.9 221.0,274.2 221.1,275.2 221.2,271.3 221.4,272.7 221.5,271.3 221.6,273.1 221.8,272.7 221.9,271.5 222.0,272.4 222.2,271.2 222.3,270.3 222.4,268.8 222.6,269.9 222.7,271.4 222.8,273.2 223.0,272.8 223.1,274.2 223.2,273.7 223.4,273.1 223.5,273.7 223.6,274.8 223.7,273.5 223.9,272.7 224.0,272.3 224.1,272.3 224.3,270.9 224.4,272.7 224.5,271.9 224.7,272.5 224.8,271.1 224.9,271.8 225.1,272.4 225.2,271.5 225.3,274.5 225.5,274.1 225.6,275.9 225.7,276.0 225.9,273.7 226.0,272.5 226.1,272.8 226.3,272.4 226.4,272.2 226.5,271.5 226.7,268.8 226.8,269.2 226.9,266.6 227.1,268.5 227.2,268.3 227.3,268.1 227.5,268.7 227.6,269.8 227.7,268.1 227.9,266.5 228.0,266.3 228.1,264.8 228.3,265.2 228.4,269.3 228.5,268.2 228.7,270.0 228.8,268.3 228.9,269.5 229.1,269.4 229.2,269.8 229.3,270.9 229.5,273.4 229.6,272.9 229.7,272.4 229.9,270.5 230.0,271.4 230.1,270.8 230.3,272.0 230.4,271.5 230.5,273.7 230.7,269.9 230.8,269.6 230.9,271.2 231.1,270.5 231.2,269.3 231.3,269.2 231.5,267.6 231.6,268.6 231.7,272.7 231.9,273.6 232.0,271.0 232.1,269.5 232.3,269.2 232.4,271.0 232.5,269.6 232.7,268.8 232.8,270.5 232.9,271.7 233.1,270.8 233.2,269.0 233.3,267.2 233.5,267.1 233.6,264.9 233.7,267.7 233.8,267.6 234.0,269.2 234.1,272.4 234.2,273.6 234.4,271.1 234.5,272.3 234.6,273.6 234.8,271.7 234.9,270.1 235.0,270.3 235.2,268.2 235.3,271.3 235.4,267.8 235.6,267.3 235.7,268.2 235.8,268.9 236.0,270.0 236.1,271.0 236.2,270.9 236.4,272.9 236.5,269.5 236.6,270.3 236.8,269.8 236.9,270.8 237.0,271.6 237.2,270.5 237.3,270.1 237.4,272.0 237.6,272.7 237.7,271.7 237.8,275.0 238.0,277.7 238.1,274.1 238.2,274.2 238.4,277.5 238.5,277.3 238.6,276.3 238.8,275.0 238.9,273.6 239.0,273.1 239.2,272.2 239.3,273.6 239.4,272.8 239.6,272.2 239.7,270.7 239.8,271.3 240.0,270.5 240.1,271.0 240.2,273.2 240.4,273.7 240.5,274.3 240.6,274.5 240.8,274.2 240.9,273.7 241.0,273.1 241.2,274.2 241.3,272.3 241.4,274.6 241.6,274.2 241.7,272.8 241.8,272.2 242.0,271.5 242.1,272.3 242.2,271.5 242.4,273.7 242.5,272.4 242.6,269.2 242.8,269.3 242.9,267.5 243.0,269.1 243.2,271.9 243.3,273.3 243.4,271.2 243.6,270.6 243.7,274.0 243.8,274.2 243.9,273.8 244.1,275.1 244.2,278.1 244.3,278.5 244.5,277.0 244.6,276.2 244.7,276.1 244.9,274.1 245.0,272.0 245.1,272.2 245.3,270.8 245.4,271.2 245.5,271.6 245.7,275.3 245.8,273.1 245.9,272.6 246.1,272.1 246.2,272.7 246.3,274.0 246.5,272.6 246.6,271.1 246.7,268.8 246.9,268.3 247.0,270.1 247.1,270.6 247.3,269.4 247.4,269.5 247.5,270.2 247.7,271.3 247.8,270.5 247.9,270.5 248.1,268.1 248.2,267.4 248.3,271.2 248.5,268.0 248.6,268.6 248.7,269.9 248.9,270.0 249.0,269.4 249.1,270.1 249.3,270.7 249.4,271.0 249.5,268.6 249.7,269.5 249.8,269.1 249.9,269.3 250.1,270.7 250.2,272.3 250.3,273.9 250.5,272.9 250.6,274.4 250.7,275.8 250.9,276.8 251.0,277.9 251.1,276.4 251.3,275.3 251.4,276.1 251.5,273.3 251.7,273.8 251.8,273.1 251.9,272.8 252.1,270.5 252.2,270.3 252.3,271.4 252.5,273.6 252.6,275.4 252.7,274.9 252.9,274.5 253.0,273.2 253.1,274.1 253.3,273.8 253.4,274.9 253.5,277.5 253.7,276.5 253.8,273.5 253.9,272.4 254.0,270.7 254.2,269.9 254.3,273.2 254.4,273.8 254.6,271.5 254.7,273.2 254.8,275.3 255.0,274.3 255.1,273.0 255.2,272.7 255.4,273.3 255.5,274.3 255.6,275.8 255.8,276.8 255.9,277.5 256.0,278.2 256.2,277.6 256.3,273.7 256.4,273.2 256.6,273.4 256.7,272.5 256.8,273.8 257.0,272.7 257.1,271.1 257.2,273.6 257.4,274.1 257.5,273.7 257.6,274.5 257.8,275.3 257.9,274.7 258.0,269.9 258.2,269.3 258.3,269.2 258.4,268.3 258.6,269.6 258.7,271.9 258.8,271.0 259.0,269.3 259.1,273.1 259.2,271.9 259.4,269.8 259.5,270.6 259.6,271.5 259.8,270.4 259.9,271.9 260.0,271.0 260.2,269.8 260.3,270.6 260.4,272.1 260.6,271.0 260.7,271.7 260.8,271.6 261.0,276.1 261.1,273.7 261.2,275.4 261.4,274.3 261.5,273.4 261.6,274.2 261.8,275.0 261.9,276.1 262.0,275.5 262.2,273.6 262.3,272.4 262.4,273.2 262.6,273.9 262.7,275.7 262.8,275.4 263.0,276.3 263.1,277.6 263.2,276.4 263.4,273.0 263.5,271.1 263.6,269.3 263.8,272.9 263.9,271.6 264.0,273.9 264.1,274.6 264.3,276.8 264.4,277.3 264.5,275.9 264.7,274.7 264.8,274.4 264.9,274.3 265.1,273.2 265.2,273.2 265.3,275.8 265.5,272.4 265.6,273.1 265.7,271.8 265.9,272.6 266.0,274.2 266.1,273.9 266.3,275.1 266.4,272.1 266.5,274.3 266.7,273.2 266.8,274.4 266.9,274.5 267.1,270.2 267.2,270.1 267.3,271.6 267.5,274.7 267.6,274.9 267.7,275.0 267.9,272.5 268.0,275.2 268.1,277.7 268.3,276.6 268.4,275.5 268.5,272.4 268.7,274.3 268.8,278.5 268.9,278.3 269.1,279.0 269.2,278.3 269.3,275.4 269.5,277.1 269.6,274.1 269.7,273.7 269.9,274.2 270.0,275.4 270.1,275.6 270.3,275.6 270.4,273.8 270.5,271.6 270.7,272.3 270.8,271.5 270.9,269.9 271.1,268.9 271.2,269.4 271.3,267.6 271.5,267.1 271.6,266.2 271.7,268.5 271.9,270.5 272.0,274.4 272.1,271.5 272.3,270.8 272.4,272.8 272.5,272.4 272.7,271.9 272.8,274.8 272.9,273.6 273.1,271.4 273.2,269.5 273.3,270.9 273.5,271.8 273.6,269.8 273.7,268.9 273.9,270.8 274.0,272.1 274.1,271.1 274.3,272.5 274.4,273.3 274.5,270.1 274.6,270.3 274.8,271.5 274.9,270.8 275.0,267.8 275.2,268.7 275.3,271.0 275.4,274.0 275.6,270.0 275.7,275.0 275.8,272.4 276.0,274.0 276.1,275.6 276.2,276.4 276.4,275.5 276.5,272.9 276.6,273.9 276.8,272.5 276.9,268.6 277.0,274.5 277.2,275.3 277.3,277.6 277.4,274.9 277.6,276.8 277.7,278.4 277.8,279.5 278.0,277.7 278.1,274.6 278.2,274.1 278.4,270.5 278.5,268.7 278.6,270.5 278.8,270.0 278.9,271.0 279.0,271.8 279.2,275.7 279.3,277.4 279.4,276.4 279.6,277.8 279.7,275.6 279.8,274.7 280.0,276.2 280.1,273.7 280.2,273.5 280.4,271.8 280.5,272.9 280.6,276.1 280.8,274.5 280.9,275.0 281.0,273.5 281.2,272.1 281.3,270.9 281.4,274.5 281.6,278.6 281.7,278.3 281.8,276.2 282.0,277.0 282.1,275.9 282.2,277.0 282.4,276.9 282.5,276.9 282.6,277.4 282.8,275.8 282.9,275.0 283.0,272.3 283.2,272.5 283.3,271.0 283.4,272.1 283.6,271.5 283.7,272.9 283.8,274.4 284.0,272.4 284.1,272.0 284.2,271.5 284.4,274.0 284.5,277.3 284.6,278.2 284.7,276.8 284.9,278.9 285.0,275.4 285.1,278.0 285.3,276.2 285.4,271.5 285.5,277.1 285.7,279.3 285.8,276.5 285.9,276.5 286.1,275.9 286.2,276.0 286.3,273.5 286.5,273.0 286.6,274.6 286.7,275.3 286.9,277.4 287.0,277.0 287.1,280.5 287.3,277.8 287.4,277.6 287.5,273.8 287.7,272.2 287.8,275.4 287.9,273.9 288.1,275.2 288.2,275.2 288.3,273.5 288.5,273.5 288.6,273.2 288.7,273.0 288.9,274.9 289.0,276.1 289.1,274.8 289.3,273.4 289.4,274.4 289.5,274.4 289.7,276.3 289.8,280.3 289.9,280.1 290.1,278.5 290.2,277.1 290.3,275.0 290.5,273.4 290.6,272.1 290.7,272.2 290.9,272.2 291.0,274.2 291.1,273.6 291.3,273.6 291.4,271.8 291.5,275.3 291.7,275.9 291.8,278.4 291.9,278.5 292.1,279.7 292.2,277.7 292.3,277.8 292.5,281.3 292.6,277.1 292.7,278.2 292.9,279.8 293.0,278.8 293.1,278.6 293.3,279.4 293.4,276.6 293.5,276.5 293.7,274.3 293.8,273.0 293.9,272.2 294.1,272.5 294.2,273.1 294.3,274.1 294.5,271.6 294.6,275.7 294.7,277.1 294.8,277.4 295.0,275.7 295.1,275.0 295.2,275.6 295.4,275.8 295.5,272.3 295.6,274.1 295.8,279.1 295.9,274.4 296.0,276.0 296.2,276.1 296.3,275.3 296.4,277.4 296.6,274.4 296.7,274.6 296.8,277.1 297.0,276.0 297.1,274.8 297.2,274.9 297.4,274.1 297.5,276.9 297.6,274.7 297.8,276.3 297.9,273.7 298.0,275.2 298.2,274.9 298.3,270.5 298.4,271.8 298.6,270.9 298.7,271.4 298.8,275.2 299.0,273.3 299.1,272.0 299.2,275.5 299.4,275.6 299.5,278.2 299.6,277.9 299.8,275.5 299.9,275.3 300.0,277.4 300.2,278.4 300.3,277.5 300.4,276.9 300.6,276.1 300.7,274.8 300.8,278.3 301.0,277.3 301.1,274.7 301.2,273.9 301.4,275.5 301.5,276.5 301.6,275.8 301.8,274.3 301.9,274.5 302.0,271.7 302.2,270.3 302.3,273.1 302.4,272.7 302.6,274.0 302.7,276.3 302.8,277.0 303.0,276.3 303.1,279.5 303.2,279.2 303.4,277.2 303.5,277.7 303.6,277.4 303.8,275.0 303.9,275.0 304.0,274.5 304.2,271.0 304.3,271.7 304.4,272.0 304.6,271.9 304.7,269.8 304.8,270.5 304.9,271.6 305.1,272.6 305.2,271.1 305.3,273.2 305.5,271.3 305.6,271.8 305.7,274.9 305.9,273.5 306.0,272.8 306.1,275.2 306.3,274.3 306.4,273.8 306.5,274.4 306.7,276.3 306.8,271.9 306.9,271.3 307.1,270.5 307.2,269.9 307.3,269.9 307.5,269.9 307.6,272.0 307.7,271.4 307.9,272.8 308.0,274.3 308.1,273.4 308.3,274.3 308.4,277.7 308.5,277.7 308.7,276.1 308.8,276.0 308.9,274.5 309.1,275.6 309.2,277.4 309.3,275.8 309.5,275.8 309.6,278.1 309.7,277.0 309.9,277.4 310.0,275.7 310.1,274.8 310.3,274.8 310.4,279.5 310.5,278.3 310.7,277.4 310.8,276.7 310.9,276.9 311.1,278.5 311.2,278.8 311.3,282.3 311.5,281.6 311.6,283.3 311.7,282.4 311.9,282.4 312.0,278.8 312.1,278.6 312.3,278.6 312.4,278.3 312.5,274.8 312.7,277.5 312.8,277.3 312.9,277.0 313.1,277.2 313.2,277.3 313.3,278.5 313.5,276.4 313.6,275.5 313.7,276.9 313.9,277.7 314.0,277.3 314.1,276.7 314.3,275.8 314.4,276.5 314.5,279.1 314.7,277.0 314.8,280.0 314.9,280.9 315.0,279.2 315.2,280.2 315.3,276.9 315.4,274.2 315.6,273.0 315.7,273.7 315.8,274.3 316.0,274.3 316.1,275.4 316.2,272.3 316.4,274.6 316.5,272.9 316.6,273.1 316.8,273.5 316.9,272.6 317.0,271.5 317.2,271.4 317.3,273.0 317.4,275.2 317.6,276.7 317.7,275.0 317.8,274.2 318.0,273.4 318.1,275.2 318.2,272.1 318.4,275.7 318.5,275.1 318.6,274.2 318.8,275.6 318.9,277.7 319.0,278.0 319.2,279.5 319.3,278.9 319.4,280.4 319.6,281.4 319.7,279.8 319.8,281.4 320.0,280.3 320.1,279.3 320.2,276.9 320.4,276.3 320.5,277.7 320.6,275.1 320.8,276.6 320.9,277.2 321.0,277.5 321.2,273.3 321.3,274.1 321.4,275.9 321.6,274.7 321.7,275.4 321.8,271.5 322.0,274.1 322.1,273.6 322.2,276.0 322.4,272.8 322.5,275.1 322.6,275.0 322.8,276.8 322.9,275.0 323.0,274.2 323.2,278.8 323.3,276.5 323.4,275.1 323.6,274.9 323.7,273.5 323.8,276.4 324.0,279.3 324.1,277.1 324.2,273.7 324.4,276.5 324.5,278.3 324.6,279.0 324.8,280.2 324.9,277.4 325.0,276.6 325.1,274.0 325.3,272.0 325.4,274.9 325.5,274.0 325.7,278.6 325.8,277.9 325.9,276.2 326.1,277.5 326.2,280.2 326.3,279.7 326.5,276.4 326.6,276.9 326.7,279.0 326.9,277.1 327.0,275.3 327.1,277.2 327.3,277.0 327.4,274.7 327.5,274.3 327.7,273.3 327.8,274.6 327.9,275.1 328.1,277.3 328.2,278.1 328.3,274.5 328.5,275.6 328.6,277.2 328.7,277.5 328.9,278.8 329.0,276.9 329.1,274.8 329.3,276.8 329.4,274.5 329.5,271.1 329.7,274.3 329.8,273.5 329.9,273.7 330.1,271.8 330.2,270.7 330.3,270.2 330.5,271.4 330.6,273.5 330.7,270.2 330.9,273.3 331.0,272.1 331.1,271.5 331.3,274.2 331.4,274.8 331.5,272.6 331.7,277.1 331.8,275.4 331.9,276.3 332.1,276.8 332.2,279.4 332.3,277.8 332.5,279.4 332.6,277.4 332.7,279.3 332.9,277.3 333.0,276.6 333.1,280.2 333.3,280.0 333.4,279.4 333.5,282.8 333.7,281.9 333.8,279.1 333.9,280.0 334.1,277.1 334.2,279.3 334.3,281.0 334.5,279.0 334.6,277.5 334.7,277.9 334.9,277.9 335.0,276.1 335.1,277.6 335.2,274.0 335.4,274.4 335.5,274.7 335.6,275.2 335.8,276.6 335.9,274.8 336.0,276.8 336.2,276.8 336.3,276.0 336.4,274.1 336.6,273.2 336.7,275.3 336.8,274.4 337.0,275.6 337.1,278.3 337.2,280.1 337.4,282.3 337.5,280.5 337.6,277.8 337.8,279.7 337.9,279.8 338.0,281.3 338.2,280.4 338.3,281.9 338.4,282.3 338.6,282.3 338.7,282.0 338.8,281.5 339.0,280.9 339.1,280.4 339.2,281.5 339.4,279.5 339.5,282.2 339.6,280.7 339.8,281.6 339.9,280.3 340.0,279.1 340.2,282.4 340.3,280.4 340.4,277.2 340.6,276.0 340.7,275.9 340.8,280.3 341.0,279.8 341.1,280.7 341.2,277.9 341.4,278.3 341.5,279.2 341.6,281.8 341.8,279.1 341.9,279.5 342.0,279.3 342.2,276.7 342.3,276.6 342.4,276.2 342.6,272.1 342.7,274.5 342.8,276.1 343.0,275.4 343.1,273.3 343.2,276.9 343.4,277.2 343.5,278.8 343.6,280.6 343.8,278.4 343.9,279.2 344.0,277.9 344.2,277.3 344.3,276.9 344.4,276.7 344.6,278.6 344.7,278.2 344.8,277.4 345.0,276.6 345.1,277.2 345.2,275.4 345.3,274.8 345.5,275.3 345.6,274.7 345.7,275.1 345.9,274.5 346.0,278.9 346.1,280.8 346.3,280.5 346.4,279.4 346.5,282.8 346.7,281.7 346.8,280.3 346.9,280.0 347.1,279.8 347.2,281.8 347.3,280.5 347.5,283.6 347.6,280.3 347.7,280.9 347.9,278.2 348.0,281.6 348.1,280.0 348.3,279.4 348.4,280.8 348.5,282.4 348.7,279.3 348.8,278.5 348.9,276.0 349.1,277.1 349.2,277.5 349.3,277.3 349.5,276.5 349.6,276.6 349.7,276.0 349.9,277.9 350.0,281.1 350.1,277.0 350.3,277.4 350.4,277.2 350.5,278.7 350.7,277.2 350.8,277.5 350.9,276.2 351.1,278.4 351.2,278.9 351.3,278.7 351.5,279.6 351.6,279.0 351.7,276.2 351.9,278.3 352.0,279.1 352.1,278.9 352.3,280.8 352.4,282.6 352.5,279.5 352.7,278.0 352.8,281.2 352.9,283.2 353.1,280.6 353.2,277.9 353.3,277.1 353.5,276.7 353.6,274.5 353.7,275.9 353.9,274.4 354.0,273.5 354.1,276.8 354.3,276.1 354.4,276.8 354.5,278.5 354.7,280.1 354.8,279.0 354.9,279.0 355.1,277.3 355.2,280.9 355.3,281.4 355.4,278.5 355.6,278.4 355.7,279.7 355.8,280.2 356.0,283.0 356.1,284.1 356.2,281.3 356.4,280.2 356.5,277.2 356.6,278.0 356.8,278.3 356.9,283.2 357.0,281.8 357.2,276.8 357.3,275.9 357.4,276.7 357.6,274.8 357.7,274.1 357.8,274.6 358.0,276.2 358.1,276.4 358.2,275.2 358.4,277.4 358.5,276.6 358.6,276.0 358.8,274.0 358.9,273.7 359.0,276.1 359.2,273.7 359.3,274.8 359.4,277.0 359.6,276.5 359.7,277.4 359.8,275.4 360.0,278.5 360.1,280.3 360.2,280.0 360.4,276.1 360.5,274.7 360.6,277.4 360.8,280.7 360.9,280.3 361.0,281.8 361.2,279.5 361.3,278.6 361.4,278.3 361.6,278.9 361.7,275.7 361.8,278.0 362.0,280.4 362.1,277.4 362.2,275.0 362.4,276.4 362.5,275.5 362.6,271.8 362.8,275.0 362.9,276.0 363.0,275.6 363.2,280.1 363.3,279.5 363.4,277.5 363.6,277.7 363.7,275.7 363.8,274.8 364.0,276.3 364.1,275.6 364.2,275.3 364.4,279.0 364.5,280.1 364.6,280.8 364.8,280.7 364.9,280.6 365.0,282.3 365.2,280.8 365.3,283.2 365.4,279.7 365.5,278.5 365.7,275.6 365.8,275.5 365.9,277.0 366.1,279.8 366.2,277.9 366.3,277.8 366.5,277.0 366.6,275.8 366.7,274.1 366.9,275.2 367.0,272.7 367.1,274.3 367.3,275.3 367.4,274.7 367.5,273.7 367.7,272.3 367.8,277.3 367.9,274.8 368.1,278.5 368.2,279.2 368.3,278.0 368.5,275.7 368.6,278.1 368.7,281.0 368.9,278.1 369.0,277.3 369.1,279.2 369.3,279.1 369.4,282.2 369.5,279.5 369.7,279.7 369.8,276.5 369.9,280.5 370.1,278.0 370.2,273.5 370.3,274.2 370.5,274.6 370.6,278.6 370.7,277.3 370.9,277.0 371.0,277.8 371.1,280.2 371.3,278.9 371.4,279.9 371.5,279.7 371.7,278.0 371.8,277.5 371.9,277.0 372.1,274.9 372.2,277.4 372.3,274.3 372.5,276.9 372.6,278.3 372.7,277.3 372.9,275.4 373.0,275.0 373.1,276.1 373.3,277.3 373.4,277.3 373.5,278.6 373.7,276.7 373.8,276.8 373.9,273.6 374.1,275.6 374.2,275.9 374.3,275.1 374.5,277.4 374.6,278.2 374.7,272.2 374.9,273.4 375.0,271.4 375.1,274.7 375.3,279.6 375.4,277.5 375.5,277.1 375.6,276.3 375.8,276.8 375.9,277.7 376.0,279.5 376.2,276.5 376.3,279.2 376.4,276.4 376.6,276.7 376.7,278.6 376.8,279.0 377.0,276.3 377.1,274.8 377.2,274.2 377.4,274.5 377.5,277.0 377.6,274.2 377.8,275.5 377.9,276.6 378.0,277.3 378.2,277.7 378.3,279.8 378.4,279.5 378.6,279.9 378.7,279.6 378.8,281.7 379.0,276.4 379.1,278.5 379.2,277.2 379.4,276.2 379.5,274.3 379.6,271.3 379.8,271.9 379.9,271.8 380.0,273.9 380.2,271.8 380.3,275.7 380.4,276.3 380.6,275.8 380.7,274.6 380.8,273.6 381.0,272.3 381.1,272.5 381.2,273.7 381.4,274.2 381.5,272.2 381.6,273.0 381.8,272.5 381.9,274.0 382.0,278.2 382.2,278.9 382.3,277.7 382.4,274.5 382.6,272.6 382.7,270.8 382.8,274.0 383.0,273.5 383.1,274.6 383.2,274.2 383.4,275.2 383.5,278.4 383.6,276.7 383.8,276.2 383.9,275.0 384.0,277.3 384.2,275.3 384.3,273.8 384.4,272.2 384.6,271.1 384.7,273.8 384.8,279.5 385.0,277.0 385.1,278.7 385.2,278.7 385.4,276.2 385.5,275.9 385.6,275.8 385.7,274.9 385.9,279.1 386.0,275.0 386.1,276.3 386.3,277.1 386.4,276.0 386.5,276.5 386.7,278.3 386.8,278.2 386.9,278.6 387.1,279.4 387.2,274.9 387.3,278.2 387.5,282.0 387.6,282.3 387.7,282.6 387.9,278.3 388.0,277.7 388.1,276.0 388.3,275.2 388.4,277.6 388.5,275.9 388.7,276.0 388.8,272.9 388.9,273.8 389.1,275.0 389.2,274.4 389.3,273.9 389.5,278.4 389.6,275.8 389.7,274.3 389.9,273.7 390.0,277.0 390.1,281.0 390.3,280.5 390.4,278.3 390.5,277.3 390.7,279.3 390.8,277.1 390.9,279.9 391.1,281.8 391.2,280.7 391.3,280.9 391.5,281.3 391.6,283.1 391.7,279.5 391.9,281.1 392.0,279.4 392.1,277.5 392.3,277.7 392.4,277.3 392.5,275.6 392.7,273.3 392.8,272.9 392.9,277.0 393.1,280.8 393.2,281.1 393.3,282.3 393.5,279.9 393.6,279.1 393.7,279.2 393.9,276.7 394.0,275.2 394.1,276.1 394.3,275.9 394.4,274.5 394.5,276.1 394.7,276.0 394.8,278.3 394.9,278.0 395.1,277.3 395.2,277.5 395.3,277.1 395.5,275.9 395.6,275.6 395.7,277.4 395.8,278.5 396.0,280.5 396.1,276.3 396.2,275.8 396.4,275.4 396.5,276.1 396.6,275.5 396.8,275.0 396.9,277.0 397.0,277.2 397.2,275.0 397.3,277.9 397.4,279.4 397.6,277.6 397.7,278.8 397.8,276.8 398.0,278.9 398.1,277.8 398.2,276.0 398.4,275.5 398.5,274.5 398.6,275.5 398.8,276.2 398.9,276.5 399.0,275.6 399.2,269.2 399.3,271.7 399.4,269.8 399.6,272.4 399.7,275.9 399.8,276.8 400.0,276.2 400.1,276.2 400.2,276.2 400.4,275.6 400.5,275.0 400.6,274.0 400.8,277.3 400.9,277.3 401.0,279.2 401.2,278.2 401.3,278.2 401.4,277.8 401.6,278.6 401.7,279.9 401.8,279.8 402.0,278.0 402.1,276.6 402.2,280.1 402.4,279.0 402.5,278.2 402.6,280.9 402.8,282.1 402.9,282.0 403.0,280.1 403.2,284.0 403.3,283.0 403.4,282.7 403.6,281.1 403.7,277.8 403.8,275.6 404.0,277.3 404.1,278.4 404.2,278.1 404.4,276.1 404.5,274.3 404.6,275.1 404.8,273.5 404.9,276.8 405.0,279.6 405.2,284.6 405.3,284.5 405.4,281.8 405.6,279.3 405.7,272.9 405.8,273.6 405.9,274.9 406.1,277.9 406.2,279.4 406.3,280.4 406.5,280.4 406.6,281.2 406.7,283.2 406.9,280.0 407.0,278.8 407.1,276.3 407.3,280.1 407.4,282.1 407.5,282.5 407.7,279.2 407.8,279.4 407.9,278.8 408.1,279.0 408.2,278.6 408.3,279.6 408.5,278.7 408.6,280.3 408.7,280.3 408.9,279.3 409.0,279.0 409.1,278.1 409.3,279.9 409.4,279.1 409.5,279.6 409.7,278.6 409.8,276.0 409.9,278.6 410.1,276.8 410.2,278.7 410.3,279.6 410.5,276.4 410.6,275.5 410.7,275.6 410.9,275.2 411.0,274.2 411.1,277.1 411.3,277.3 411.4,278.6 411.5,278.1 411.7,279.0 411.8,277.8 411.9,278.2 412.1,279.7 412.2,279.7 412.3,278.8 412.5,277.0 412.6,278.1 412.7,279.1 412.9,278.8 413.0,277.6 413.1,279.2 413.3,283.8 413.4,282.0 413.5,281.8 413.7,281.8 413.8,276.4 413.9,277.5 414.1,276.8 414.2,280.1 414.3,279.4 414.5,277.9 414.6,277.9 414.7,278.6 414.9,277.7 415.0,278.0 415.1,275.8 415.3,276.4 415.4,278.6 415.5,282.3 415.7,282.6 415.8,281.9 415.9,283.2 416.0,283.7 416.2,285.2 416.3,285.2 416.4,283.0 416.6,282.1 416.7,281.4 416.8,281.0 417.0,280.6 417.1,278.5 417.2,274.5 417.4,274.4 417.5,271.8 417.6,273.8 417.8,275.1 417.9,272.9 418.0,275.7 418.2,278.0 418.3,278.2 418.4,281.2 418.6,283.6 418.7,279.7 418.8,281.1 419.0,280.9 419.1,280.7 419.2,281.6 419.4,279.1 419.5,277.6 419.6,276.1 419.8,275.2 419.9,275.8 420.0,273.7 420.2,272.9 420.3,275.4 420.4,276.0 420.6,277.2 420.7,273.8 420.8,273.5 421.0,273.8 421.1,275.0 421.2,274.7 421.4,277.3 421.5,277.3 421.6,277.5 421.8,277.6 421.9,279.0 422.0,277.8 422.2,279.9 422.3,280.1 422.4,279.8 422.6,279.3 422.7,279.9 422.8,281.2 423.0,282.1 423.1,281.6 423.2,282.2 423.4,281.3 423.5,282.8 423.6,281.4 423.8,276.8 423.9,279.8 424.0,279.7 424.2,277.3 424.3,277.4 424.4,276.3 424.6,281.0 424.7,281.4 424.8,277.9 425.0,279.3 425.1,278.6 425.2,282.4 425.4,279.7 425.5,275.5 425.6,276.9 425.8,277.1 425.9,277.2 426.0,274.1 426.1,276.6 426.3,280.7 426.4,277.0 426.5,280.1 426.7,279.1 426.8,283.7 426.9,283.5 427.1,282.1 427.2,283.6 427.3,283.5 427.5,281.4 427.6,282.3 427.7,280.7 427.9,277.2 428.0,281.8 428.1,280.6 428.3,279.3 428.4,280.1 428.5,277.2 428.7,275.5 428.8,275.8 428.9,276.0 429.1,277.2 429.2,280.0 429.3,278.9 429.5,280.0 429.6,280.9 429.7,278.4 429.9,279.0 430.0,277.3 430.1,279.8 430.3,280.3 430.4,279.9 430.5,277.1 430.7,277.8 430.8,276.6 430.9,278.5 431.1,278.3 431.2,276.9 431.3,279.0 431.5,280.2 431.6,278.6 431.7,280.6 431.9,279.4 432.0,278.5 432.1,278.7 432.3,277.2 432.4,276.7 432.5,276.9 432.7,280.1 432.8,282.4 432.9,280.7 433.1,283.0 433.2,281.5 433.3,281.3 433.5,282.1 433.6,281.5 433.7,285.1 433.9,283.6 434.0,279.9 434.1,281.9 434.3,280.2 434.4,279.2 434.5,273.5 434.7,276.9 434.8,279.0 434.9,280.4 435.1,281.7 435.2,284.0 435.3,282.4 435.5,283.1 435.6,280.5 435.7,279.4 435.9,281.2 436.0,281.3 436.1,278.2 436.2,279.1 436.4,278.8 436.5,277.4 436.6,278.7 436.8,278.1 436.9,275.6 437.0,274.6 437.2,279.3 437.3,276.5 437.4,277.8 437.6,279.4 437.7,280.6 437.8,278.0 438.0,277.9 438.1,278.7 438.2,280.4 438.4,279.0 438.5,277.1 438.6,279.7 438.8,281.8 438.9,281.9 439.0,280.1 439.2,280.8 439.3,280.7 439.4,282.0 439.6,279.1 439.7,279.5 439.8,279.4 440.0,277.5 440.1,278.6 440.2,279.1 440.4,278.6 440.5,279.7 440.6,277.1 440.8,277.8 440.9,279.2 441.0,279.9 441.2,281.8 441.3,279.0 441.4,276.4 441.6,277.8 441.7,279.1 441.8,283.1 442.0,283.2 442.1,280.4 442.2,281.5 442.4,279.3 442.5,276.5 442.6,282.1 442.8,281.8 442.9,282.3 443.0,282.3 443.2,284.6 443.3,283.4 443.4,284.3 443.6,280.7 443.7,277.6 443.8,280.5 444.0,282.7 444.1,282.4 444.2,281.7 444.4,281.1 444.5,279.1 444.6,281.8 444.8,282.1 444.9,282.0 445.0,281.7 445.2,282.7 445.3,282.5 445.4,282.7 445.6,279.4 445.7,280.2 445.8,283.8 446.0,281.4 446.1,280.4 446.2,281.7 446.4,282.7 446.5,282.8 446.6,278.7 446.7,279.8 446.9,277.5 447.0,276.5 447.1,278.4 447.3,278.2 447.4,280.1 447.5,285.8 447.7,285.4 447.8,285.0 447.9,281.8 448.1,280.0 448.2,278.0 448.3,277.6 448.5,276.3 448.6,276.2 448.7,276.9 448.9,276.0 449.0,274.6 449.1,273.7 449.3,276.4 449.4,277.6 449.5,280.3 449.7,282.1 449.8,280.9 449.9,281.9 450.1,278.7 450.2,283.3 450.3,284.5 450.5,282.8 450.6,279.8 450.7,280.6 450.9,276.9 451.0,276.4 451.1,278.9 451.3,279.3 451.4,278.6 451.5,280.7 451.7,278.6 451.8,279.5 451.9,278.7 452.1,277.5 452.2,279.0 452.3,277.5 452.5,281.7 452.6,280.0 452.7,283.7 452.9,280.5 453.0,281.4 453.1,278.7 453.3,276.6 453.4,277.9 453.5,279.7 453.7,277.4 453.8,280.3 453.9,278.7 454.1,279.3 454.2,280.2 454.3,281.2 454.5,277.5 454.6,281.2 454.7,281.8 454.9,280.5 455.0,278.4 455.1,275.7 455.3,274.5 455.4,277.1 455.5,277.3 455.7,276.0 455.8,276.2 455.9,280.2 456.1,279.5 456.2,278.6 456.3,281.5 456.5,281.8 456.6,281.4 456.7,279.8 456.8,277.0 457.0,275.7 457.1,276.1 457.2,276.8 457.4,278.4 457.5,279.9 457.6,280.3 457.8,280.6 457.9,278.6 458.0,275.0 458.2,275.6 458.3,275.1 458.4,275.4 458.6,276.3 458.7,275.1 458.8,274.5 459.0,276.0 459.1,277.4 459.2,277.0 459.4,278.8 459.5,278.8 459.6,277.3 459.8,278.2 459.9,282.2 460.0,280.4 460.2,282.4 460.3,284.3 460.4,285.8 460.6,282.6 460.7,285.5 460.8,284.1 461.0,282.4 461.1,281.3 461.2,282.1 461.4,281.6 461.5,280.8 461.6,283.0 461.8,280.8 461.9,278.6 462.0,280.5 462.2,281.7 462.3,283.2 462.4,280.3 462.6,282.2 462.7,282.5 462.8,285.0 463.0,281.2 463.1,281.3 463.2,280.4 463.4,277.4 463.5,276.9 463.6,279.9 463.8,279.1 463.9,278.0 464.0,280.2 464.2,282.0 464.3,283.2 464.4,280.8 464.6,280.5 464.7,282.2 464.8,280.3 465.0,278.8 465.1,280.7 465.2,283.3 465.4,280.2 465.5,275.3 465.6,274.0 465.8,273.9 465.9,275.4 466.0,277.9 466.2,278.2 466.3,277.4 466.4,278.4 466.6,277.0 466.7,277.8 466.8,277.2 466.9,282.9 467.1,283.4 467.2,280.8 467.3,278.6 467.5,278.1 467.6,275.6 467.7,275.5 467.9,275.4 468.0,278.3 468.1,277.9 468.3,277.0 468.4,275.3 468.5,274.5 468.7,275.9 468.8,276.7 468.9,279.7 469.1,278.6 469.2,280.9 469.3,281.0 469.5,280.7 469.6,276.7 469.7,275.3 469.9,278.0 470.0,281.1 470.1,281.1 470.3,282.2 470.4,280.7 470.5,279.8 470.7,278.6 470.8,280.8 470.9,281.2 471.1,280.3 471.2,279.6 471.3,280.7 471.5,281.1 471.6,279.2 471.7,282.6 471.9,282.2 472.0,281.6 472.1,283.8 472.3,284.5 472.4,283.0 472.5,283.1 472.7,280.1 472.8,278.9 472.9,275.0 473.1,278.8 473.2,275.6 473.3,278.2 473.5,277.2 473.6,276.2 473.7,277.0 473.9,278.4 474.0,280.0 474.1,283.3 474.3,283.0 474.4,283.8 474.5,281.6 474.7,282.5 474.8,282.1 474.9,280.7 475.1,280.4 475.2,280.3 475.3,280.7 475.5,281.3 475.6,280.1 475.7,278.9 475.9,280.7 476.0,277.5 476.1,277.3 476.3,281.1 476.4,276.0 476.5,276.1 476.7,278.7 476.8,276.2 476.9,282.3 477.0,277.1 477.2,280.8 477.3,283.6 477.4,284.4 477.6,282.9 477.7,282.9 477.8,280.5 478.0,282.0 478.1,279.5 478.2,279.3 478.4,281.5 478.5,279.2 478.6,278.9 478.8,279.7 478.9,277.4 479.0,280.5 479.2,281.0 479.3,278.0 479.4,278.6 479.6,277.7 479.7,277.2 479.8,278.2 480.0,277.5 480.1,280.1 480.2,278.8 480.4,281.0 480.5,280.6 480.6,282.0 480.8,280.4 480.9,279.3 481.0,277.4 481.2,279.2 481.3,281.2 481.4,284.7 481.6,285.7 481.7,284.4 481.8,282.7 482.0,282.6 482.1,281.8 482.2,284.0 482.4,284.6 482.5,281.7 482.6,280.0 482.8,282.6 482.9,282.5 483.0,281.4 483.2,283.3 483.3,281.7 483.4,280.8 483.6,279.9 483.7,276.5 483.8,279.3 484.0,277.5 484.1,277.4 484.2,277.0 484.4,279.5 484.5,279.8 484.6,280.1 484.8,277.3 484.9,278.2 485.0,276.3 485.2,278.2 485.3,279.7 485.4,280.1 485.6,284.1 485.7,284.1 485.8,284.3 486.0,283.5 486.1,282.4 486.2,283.7 486.4,284.9 486.5,281.3 486.6,283.1 486.8,283.4 486.9,284.4 487.0,284.1 487.1,280.8 487.3,278.6 487.4,282.6 487.5,282.5 487.7,279.3 487.8,280.3 487.9,279.7 488.1,276.5 488.2,273.5 488.3,272.6 488.5,275.4 488.6,276.8 488.7,277.4 488.9,278.8 489.0,280.3 489.1,276.4 489.3,277.0 489.4,276.4 489.5,275.3 489.7,275.7 489.8,276.8 489.9,277.3 490.1,275.5 490.2,276.0 490.3,281.0 490.5,278.8 490.6,276.1 490.7,277.8 490.9,279.6 491.0,280.7 491.1,278.5 491.3,280.9 491.4,279.3 491.5,277.5 491.7,277.3 491.8,278.0 491.9,280.1 492.1,281.4 492.2,281.1 492.3,282.7 492.5,282.2 492.6,283.4 492.7,280.0 492.9,277.4 493.0,279.8 493.1,277.6 493.3,278.0 493.4,278.7 493.5,278.5 493.7,278.4 493.8,281.8 493.9,276.9 494.1,279.8 494.2,284.4 494.3,283.5 494.5,282.7 494.6,283.6 494.7,286.2 494.9,282.5 495.0,282.3 495.1,281.6 495.3,282.5 495.4,282.4 495.5,283.2 495.7,281.8 495.8,281.7 495.9,280.3 496.1,279.3 496.2,279.6 496.3,279.8 496.5,278.0 496.6,281.8 496.7,281.3 496.9,278.7 497.0,281.4 497.1,279.9 497.2,281.2 497.4,281.1 497.5,281.5 497.6,281.7 497.8,280.4 497.9,280.6 498.0,284.5 498.2,279.3 498.3,279.9 498.4,281.0 498.6,279.0 498.7,277.0 498.8,282.2 499.0,281.1 499.1,284.8 499.2,284.6 499.4,283.6 499.5,283.6 499.6,283.9 499.8,285.1 499.9,284.5 500.0,283.6 500.2,283.0 500.3,284.8 500.4,285.0 500.6,281.8 500.7,280.2 500.8,280.9 501.0,279.5 501.1,279.1 501.2,277.7 501.4,277.9 501.5,279.4 501.6,281.4 501.8,281.1 501.9,284.6 502.0,283.1 502.2,288.0 502.3,287.4 502.4,286.1 502.6,283.3 502.7,277.0 502.8,277.5 503.0,278.5 503.1,282.4 503.2,279.0 503.4,282.7 503.5,281.3 503.6,282.1 503.8,276.6 503.9,277.7 504.0,277.6 504.2,279.4 504.3,279.5 504.4,277.3 504.6,279.6 504.7,280.8 504.8,281.4 505.0,282.6 505.1,283.6 505.2,282.2 505.4,278.7 505.5,276.3 505.6,279.6 505.8,280.7 505.9,280.4 506.0,279.2 506.2,279.1 506.3,279.1 506.4,278.4 506.6,277.3 506.7,281.8 506.8,281.3 507.0,279.5 507.1,276.9 507.2,276.2 507.3,278.4 507.5,279.9 507.6,279.2 507.7,279.3 507.9,278.6 508.0,276.7 508.1,279.8 508.3,280.3 508.4,284.5 508.5,281.5 508.7,280.6 508.8,281.8 508.9,280.6 509.1,277.6 509.2,276.4 509.3,277.4 509.5,278.7 509.6,278.7 509.7,280.8 509.9,282.2 510.0,282.0 510.1,281.3 510.3,280.3 510.4,281.1 510.5,282.3 510.7,281.6 510.8,281.8 510.9,280.5 511.1,277.7 511.2,276.4 511.3,278.8 511.5,279.9 511.6,282.7 511.7,281.9 511.9,282.8 512.0,284.3 512.1,284.7 512.3,282.1 512.4,281.0 512.5,280.8 512.7,278.7 512.8,279.8 512.9,281.7 513.1,280.2 513.2,283.7 513.3,281.9 513.5,280.9 513.6,280.1 513.7,278.7 513.9,279.8 514.0,279.8 514.1,282.9 514.3,283.1 514.4,283.1 514.5,281.8 514.7,278.6 514.8,278.9 514.9,277.6 515.1,280.1 515.2,280.1 515.3,283.2 515.5,283.6 515.6,284.2 515.7,283.4 515.9,282.9 516.0,283.4 516.1,284.2 516.3,281.8 516.4,282.3 516.5,286.6 516.7,284.7 516.8,283.0 516.9,281.1 517.1,278.3 517.2,281.3 517.3,281.3 517.4,281.7 517.6,284.9 517.7,288.4 517.8,284.5 518.0,285.5 518.1,285.3 518.2,284.8 518.4,284.6 518.5,283.5 518.6,285.8 518.8,285.6 518.9,284.9 519.0,286.1 519.2,286.4 519.3,285.7 519.4,285.0 519.6,287.2 519.7,286.4 519.8,284.7 520.0,282.1 520.1,281.3 520.2,279.4 520.4,280.2 520.5,281.1 520.6,277.4 520.8,278.6 520.9,280.7 521.0,281.2 521.2,279.5 521.3,282.5 521.4,280.9 521.6,278.8 521.7,277.6 521.8,278.7 522.0,281.4 522.1,283.5 522.2,283.3 522.4,280.5 522.5,279.6 522.6,278.5 522.8,279.0 522.9,276.5 523.0,278.1 523.2,280.3 523.3,280.3 523.4,281.5 523.6,279.7 523.7,277.5 523.8,277.4 524.0,280.7 524.1,282.7 524.2,281.4 524.4,283.5 524.5,282.2 524.6,284.6 524.8,284.4 524.9,282.5 525.0,283.5 525.2,281.3 525.3,279.4 525.4,277.1 525.6,278.7 525.7,279.1 525.8,279.4 526.0,279.0 526.1,282.1 526.2,280.8 526.4,279.4 526.5,282.0 526.6,284.1 526.8,283.6 526.9,279.4 527.0,278.5 527.2,280.1 527.3,280.2 527.4,283.0 527.5,279.6 527.7,281.0 527.8,279.6 527.9,282.2 528.1,281.4 528.2,282.9 528.3,280.9 528.5,278.0 528.6,276.6 528.7,276.5 528.9,275.7 529.0,279.3 529.1,282.0 529.3,281.9 529.4,279.5 529.5,279.5 529.7,278.5 529.8,281.7 529.9,281.8 530.1,282.3 530.2,281.0 530.3,277.1 530.5,276.7 530.6,275.7 530.7,277.8 530.9,278.8 531.0,277.9 531.1,278.0 531.3,281.7 531.4,279.6 531.5,278.2 531.7,278.6 531.8,277.9 531.9,278.0 532.1,279.8 532.2,283.3 532.3,279.3 532.5,279.8 532.6,280.2 532.7,280.3 532.9,280.2 533.0,279.8 533.1,282.1 533.3,281.0 533.4,280.8 533.5,280.9 533.7,281.3 533.8,281.0 533.9,283.0 534.1,282.5 534.2,282.5 534.3,282.2 534.5,280.2 534.6,279.1 534.7,278.0 534.9,279.5 535.0,278.9 535.1,277.9 535.3,279.5 535.4,281.3 535.5,278.3 535.7,282.6 535.8,282.6 535.9,282.3 536.1,284.3 536.2,283.9 536.3,282.4 536.5,286.5 536.6,283.4 536.7,283.0 536.9,284.5 537.0,282.0 537.1,282.1 537.3,283.1 537.4,287.5 537.5,284.5 537.6,284.0 537.8,284.9 537.9,284.5 538.0,281.9 538.2,283.0 538.3,283.2 538.4,284.0 538.6,285.9 538.7,286.9 538.8,286.5 539.0,286.1 539.1,283.2 539.2,282.9 539.4,283.4 539.5,282.6 539.6,282.9 539.8,281.4 539.9,284.7 540.0,288.2 540.2,285.9 540.3,285.8 540.4,284.5 540.6,286.3 540.7,286.1 540.8,285.2 541.0,284.1 541.1,283.9 541.2,281.7 541.4,283.2 541.5,281.7 541.6,283.0 541.8,283.1 541.9,284.9 542.0,284.2 542.2,285.5 542.3,282.9 542.4,283.9 542.6,283.0 542.7,283.2 542.8,283.1 543.0,284.6 543.1,280.2 543.2,281.5 543.4,279.0 543.5,282.3 543.6,278.7 543.8,278.0 543.9,276.2 544.0,281.2 544.2,279.2 544.3,280.4 544.4,280.1 544.6,277.5 544.7,278.5 544.8,281.0 545.0,281.2 545.1,283.4 545.2,282.5 545.4,282.6 545.5,282.0 545.6,282.9 545.8,286.4 545.9,286.0 546.0,285.5 546.2,283.6 546.3,282.0 546.4,285.0 546.6,282.3 546.7,280.9 546.8,281.3 547.0,281.0 547.1,285.2 547.2,280.2 547.4,281.7 547.5,283.4 547.6,281.1 547.7,280.5 547.9,282.0 548.0,285.2 548.1,282.8 548.3,279.8 548.4,282.5 548.5,285.3 548.7,283.9 548.8,279.4 548.9,283.0 549.1,282.5 549.2,284.5 549.3,283.8 549.5,282.6 549.6,281.7 549.7,284.6 549.9,286.5 550.0,281.3 550.1,279.8 550.3,283.8 550.4,282.6 550.5,279.9 550.7,280.6 550.8,280.8 550.9,281.0 551.1,280.4 551.2,280.3 551.3,280.0 551.5,281.2 551.6,280.0 551.7,280.1 551.9,280.4 552.0,283.3 552.1,283.6 552.3,283.0 552.4,283.7 552.5,284.0 552.7,285.4 552.8,285.4 552.9,287.7 553.1,288.5 553.2,286.6 553.3,284.5 553.5,285.5 553.6,285.4 553.7,284.3 553.9,281.0 554.0,278.0 554.1,279.9 554.3,282.1 554.4,283.6 554.5,280.9 554.7,283.2 554.8,282.0 554.9,282.8 555.1,283.4 555.2,281.6 555.3,280.8 555.5,277.4 555.6,277.2 555.7,275.4 555.9,278.3 556.0,279.6 556.1,282.1 556.3,282.8 556.4,281.5 556.5,282.4 556.7,281.6 556.8,282.9 556.9,283.3 557.1,281.2 557.2,281.5 557.3,281.8 557.5,281.4 557.6,283.3 557.7,286.1 557.8,284.2 558.0,283.0 558.1,278.6 558.2,279.4 558.4,279.4 558.5,276.3 558.6,278.6 558.8,280.7 558.9,279.8 559.0,279.8 559.2,278.7 559.3,281.1 559.4,278.6 559.6,279.1 559.7,283.6 559.8,283.2 560.0,283.7 560.1,283.0 560.2,280.5 560.4,280.9 560.5,282.0 560.6,280.1 560.8,281.3 560.9,283.8 561.0,285.3 561.2,281.4 561.3,279.8 561.4,277.5 561.6,280.8 561.7,282.3 561.8,283.5 562.0,281.5 562.1,279.5 562.2,280.4 562.4,281.1 562.5,279.9 562.6,280.8 562.8,282.4 562.9,282.8 563.0,280.7 563.2,277.3 563.3,278.3 563.4,279.9 563.6,280.1 563.7,280.1 563.8,279.5 564.0,281.7 564.1,281.9 564.2,282.4 564.4,280.7 564.5,280.1 564.6,281.2 564.8,279.9 564.9,278.5 565.0,279.2 565.2,282.6 565.3,283.1 565.4,285.8 565.6,284.7 565.7,283.7 565.8,281.0 566.0,280.6 566.1,284.1 566.2,284.5 566.4,285.5 566.5,286.2 566.6,285.4 566.8,284.5 566.9,284.4 567.0,285.4 567.2,285.8 567.3,286.1 567.4,285.7 567.6,283.7 567.7,283.2 567.8,281.7 567.9,284.2 568.1,280.2 568.2,280.9 568.3,286.2 568.5,284.9 568.6,282.5 568.7,282.9 568.9,285.6 569.0,284.8 569.1,285.7 569.3,285.3 569.4,284.2 569.5,289.9 569.7,288.3 569.8,285.9 569.9,284.4 570.1,284.9 570.2,285.3 570.3,286.3 570.5,285.8 570.6,282.5 570.7,283.8 570.9,283.2 571.0,282.7 571.1,280.2 571.3,280.1 571.4,279.8 571.5,280.8 571.7,278.8 571.8,280.2 571.9,281.3 572.1,279.8 572.2,279.6 572.3,279.0 572.5,281.9 572.6,277.5 572.7,278.4 572.9,276.7 573.0,277.7 573.1,280.7 573.3,280.1 573.4,281.1 573.5,279.9 573.7,284.2 573.8,285.3 573.9,286.5 574.1,282.8 574.2,280.6 574.3,283.0 574.5,282.4 574.6,281.8 574.7,282.5 574.9,280.0 575.0,282.0 575.1,282.0 575.3,282.9 575.4,281.4 575.5,282.5 575.7,281.0 575.8,283.0 575.9,284.7 576.1,285.6 576.2,285.4 576.3,285.5 576.5,279.4 576.6,281.7 576.7,281.2 576.9,281.6 577.0,281.1 577.1,278.8 577.3,278.7 577.4,280.8 577.5,283.8 577.7,282.0 577.8,280.3 577.9,283.4 578.0,281.3 578.2,285.3 578.3,284.4 578.4,282.0 578.6,283.7 578.7,286.3 578.8,282.3 579.0,285.0 579.1,283.6 579.2,285.8 579.4,283.9 579.5,280.4 579.6,281.8 579.8,283.5 579.9,286.9 580.0,288.6 580.2,287.9 580.3,285.6 580.4,283.6 580.6,282.6 580.7,280.9 580.8,280.7 581.0,276.4 581.1,278.4 581.2,279.5 581.4,285.0 581.5,285.5 581.6,283.6 581.8,284.2 581.9,281.4 582.0,280.5 582.2,277.6 582.3,281.7 582.4,282.9 582.6,280.6 582.7,281.0 582.8,283.2 583.0,283.8 583.1,284.1 583.2,282.0 583.4,280.9 583.5,281.5 583.6,283.5 583.8,281.6 583.9,279.8 584.0,282.7 584.2,280.9 584.3,283.3 584.4,283.4 584.6,284.7 584.7,287.2 584.8,287.0 585.0,287.0 585.1,283.9 585.2,282.1 585.4,283.3 585.5,285.8 585.6,287.3 585.8,290.0 585.9,288.2 586.0,286.8 586.2,287.2 586.3,285.7 586.4,284.5 586.6,281.9 586.7,283.8 586.8,281.3 587.0,282.5 587.1,279.8 587.2,282.6 587.4,280.6 587.5,282.7 587.6,279.6 587.8,279.6 587.9,282.6 588.0,281.1 588.1,281.6 588.3,281.0 588.4,277.3 588.5,279.4 588.7,281.2 588.8,279.6 588.9,281.7 589.1,280.6 589.2,279.4 589.3,280.5 589.5,280.0 589.6,285.2 589.7,281.7 589.9,283.5 590.0,285.3 590.1,281.0 590.3,278.5 590.4,281.0 590.5,280.8 590.7,282.3 590.8,284.8 590.9,283.7 591.1,281.7 591.2,277.2 591.3,279.5 591.5,279.0 591.6,280.9 591.7,282.2 591.9,280.0 592.0,284.3 592.1,286.1 592.3,286.9 592.4,283.7 592.5,282.9 592.7,282.1 592.8,281.7 592.9,280.2 593.1,281.9 593.2,282.8 593.3,283.6 593.5,282.6 593.6,285.2 593.7,285.0 593.9,279.4 594.0,279.4 594.1,280.4 594.3,283.0 594.4,282.5 594.5,282.2 594.7,281.2 594.8,283.0 594.9,282.2 595.1,281.3 595.2,280.4 595.3,282.2 595.5,281.4 595.6,278.8 595.7,281.1 595.9,280.4 596.0,281.7 596.1,282.7 596.3,285.0 596.4,286.2 596.5,284.1 596.7,283.4 596.8,280.8 596.9,284.4 597.1,284.7 597.2,286.6 597.3,284.8 597.5,280.4 597.6,283.9 597.7,283.6 597.9,283.6 598.0,283.4 598.1,284.3 598.2,284.7 598.4,281.2 598.5,283.6 598.6,282.3 598.8,281.5 598.9,285.0 599.0,286.0 599.2,284.3 599.3,280.4 599.4,281.3 599.6,282.7 599.7,282.5 599.8,280.3 600.0,279.5 600.1,278.2 600.2,279.9 600.4,282.3 600.5,284.3 600.6,282.5 600.8,283.0 600.9,284.0 601.0,282.7 601.2,282.5 601.3,286.5 601.4,285.8 601.6,286.6 601.7,284.7 601.8,284.3 602.0,280.7 602.1,281.4 602.2,284.1 602.4,287.7 602.5,288.5 602.6,288.2 602.8,286.8 602.9,284.7 603.0,284.0 603.2,284.9 603.3,283.0 603.4,284.9 603.6,282.7 603.7,279.6 603.8,279.0 604.0,277.3 604.1,276.7 604.2,280.9 604.4,281.4 604.5,282.6 604.6,285.1 604.8,287.1 604.9,285.3 605.0,287.4 605.2,287.1 605.3,286.3 605.4,286.5 605.6,283.2 605.7,282.1 605.8,282.6 606.0,284.3 606.1,283.7 606.2,283.7 606.4,285.7 606.5,288.0 606.6,288.4 606.8,289.6 606.9,287.4 607.0,286.0 607.2,286.2 607.3,285.2 607.4,284.1 607.6,287.4 607.7,286.2 607.8,284.0 608.0,285.1 608.1,288.4 608.2,287.4 608.3,288.9 608.5,286.8 608.6,285.3 608.7,283.8 608.9,283.8 609.0,287.4 609.1,284.4 609.3,287.5 609.4,284.7 609.5,284.2 609.7,285.8 609.8,286.5 609.9,286.3 610.1,282.7 610.2,283.8 610.3,282.0 610.5,287.3 610.6,285.9 610.7,285.6 610.9,283.0 611.0,282.3 611.1,280.3 611.3,283.1 611.4,282.7 611.5,283.9 611.7,282.5 611.8,281.8 611.9,284.5 612.1,282.3 612.2,279.1 612.3,281.0 612.5,279.4 612.6,279.5 612.7,282.1 612.9,280.7 613.0,282.8 613.1,281.3 613.3,284.3 613.4,286.1 613.5,284.0 613.7,282.9 613.8,281.1 613.9,281.6 614.1,283.7 614.2,280.4 614.3,282.5 614.5,279.7 614.6,278.7 614.7,276.2 614.9,281.6 615.0,281.6 615.1,282.0 615.3,280.5 615.4,282.7 615.5,278.4 615.7,279.3 615.8,283.9 615.9,282.4 616.1,282.0 616.2,283.0 616.3,280.9 616.5,281.0 616.6,282.8 616.7,282.7 616.9,282.9 617.0,281.7 617.1,282.1 617.3,281.9 617.4,284.4 617.5,284.8 617.7,283.2 617.8,278.1 617.9,280.4 618.1,282.0 618.2,280.1 618.3,276.7 618.4,276.0 618.6,279.3 618.7,277.9 618.8,278.1 619.0,279.5 619.1,282.3 619.2,281.9 619.4,281.6 619.5,280.5 619.6,283.7 619.8,285.0 619.9,283.7 620.0,280.4 620.2,279.2 620.3,280.9 620.4,279.7 620.6,281.8 620.7,282.3 620.8,282.5 621.0,283.4 621.1,283.6 621.2,281.3 621.4,280.7 621.5,285.1 621.6,281.7 621.8,280.6 621.9,282.7 622.0,281.9 622.2,280.2 622.3,278.0 622.4,279.9 622.6,282.1 622.7,284.3 622.8,283.4 623.0,284.6 623.1,281.6 623.2,281.7 623.4,280.3 623.5,280.8"/><rect x="346.65" y="25.5" width="245.25" height="175.2" fill="#fff"/><line x1="345.5" y1="183.25" x2="590.9" y2="183.25" stroke="#858585" stroke-width="1.0" stroke-dasharray="4.7 4.8"/><rect x="346.65" y="25.5" width="245.25" height="175.2" fill="none" stroke="#000" stroke-width="1.45"/><path d="M428.40 200.7V195.2M428.40 25.5V31.0M510.15 200.7V195.2M510.15 25.5V31.0M346.65 69.20H352.15M591.9 69.20H586.4M346.65 113.07H352.15M591.9 113.07H586.4M346.65 156.93H352.15M591.9 156.93H586.4" stroke="#000" stroke-width="1.2" fill="none"/><polyline fill="none" stroke="#F2A03F" stroke-width="1.35" stroke-linejoin="round" points="346.60,147.50 347.80,151.50 354.40,148.30 357.80,143.10 360.60,147.90 363.50,147.40 367.30,150.20 370.10,150.70 373.40,153.60 377.70,149.30 382.00,147.60 388.60,147.90 393.40,152.00 397.20,149.30 401.90,146.60 406.20,152.60 409.00,150.70 413.80,148.50 419.00,149.30 424.70,150.10 428.50,146.90 432.80,153.60 437.00,152.10 441.80,149.10 446.10,151.00 452.70,145.50 456.50,148.50 458.90,147.20 462.80,151.60 466.10,146.00 470.00,147.20 474.90,152.10 480.50,144.70 484.30,148.30 491.00,151.60 494.60,142.90 499.30,147.70 503.70,149.90 507.10,150.50 510.90,148.30 513.70,136.60 517.00,137.70 520.90,138.80 523.80,147.40 526.50,144.80 530.30,124.20 532.30,137.90 536.30,139.70 539.70,135.40 542.30,134.50 544.00,135.40 545.70,128.00 547.40,136.20 549.10,135.40 551.70,122.50 553.40,135.40 556.80,116.50 558.50,133.70 561.10,96.80 563.40,132.00 565.20,90.50 568.20,119.10 571.30,96.40 572.80,99.50 573.40,83.10 574.80,120.10 576.50,97.50 578.50,95.40 581.60,66.60 583.70,102.60 585.70,62.50 587.20,63.50 588.40,98.50 589.40,73.80 590.40,62.00 590.90,98.50 591.60,55.00"/><polyline fill="none" stroke="#9A90CC" stroke-width="1.35" stroke-linejoin="round" points="346.60,159.30 348.15,158.33 349.70,159.30 351.35,157.60 353.00,155.90 354.90,158.80 356.80,158.30 359.20,155.50 361.10,156.90 362.50,155.96 363.90,154.50 365.35,153.97 366.80,155.90 368.20,156.88 369.60,159.70 371.50,157.40 372.95,158.96 374.40,158.30 376.30,160.20 377.70,157.68 379.10,157.40 380.55,156.89 382.00,158.30 384.15,157.12 386.30,153.60 388.20,158.80 390.50,155.90 392.40,156.40 393.90,159.30 396.20,155.90 397.65,156.97 399.10,157.40 400.50,157.51 401.90,158.30 403.30,160.70 404.70,155.90 407.10,157.40 409.50,156.90 410.90,157.88 412.30,158.80 413.75,158.27 415.20,156.90 416.60,157.97 418.00,160.20 419.90,154.50 421.80,156.90 423.70,155.71 425.60,156.40 427.05,157.65 428.50,157.40 429.90,158.54 431.30,158.80 433.70,158.30 435.60,155.00 437.00,158.80 438.90,159.08 440.80,159.30 442.40,159.62 444.00,158.43 445.60,157.80 447.17,158.75 448.73,156.43 450.30,156.90 451.75,156.34 453.20,155.50 454.60,155.91 456.00,156.40 458.30,154.90 459.95,155.37 461.60,156.60 463.47,156.20 465.33,154.65 467.20,154.70 468.85,157.24 470.50,158.20 471.90,157.41 473.30,154.70 475.25,154.93 477.20,157.10 478.67,156.85 480.13,156.19 481.60,156.60 483.25,156.32 484.90,158.20 486.30,157.88 487.70,155.50 489.37,155.68 491.03,155.32 492.70,156.60 494.17,156.68 495.63,155.09 497.10,155.50 499.30,157.64 501.50,157.70 503.70,157.76 505.90,159.30 507.60,156.99 509.30,157.10 511.13,155.79 512.97,155.63 514.80,155.50 516.27,155.22 517.73,156.16 519.20,154.90 521.50,157.70 523.70,153.80 525.25,155.36 526.80,155.90 528.55,155.93 530.30,156.80 532.00,154.89 533.70,154.62 535.40,156.14 537.10,154.20 538.83,155.23 540.57,156.96 542.30,157.60 544.22,155.82 546.15,155.14 548.08,156.62 550.00,155.10 551.70,156.18 553.40,156.30 555.10,157.18 556.80,158.50 558.95,155.53 561.10,154.70 562.80,153.98 564.50,153.73 566.20,155.10 567.95,155.13 569.70,153.40 571.35,154.36 573.00,155.50 574.50,153.28 576.00,153.00 577.50,155.02 579.00,155.80 581.00,153.20 583.00,156.00"/><g font-family='"Liberation Sans", sans-serif' fill="#111" stroke="#111" stroke-width="0.3"><text transform="translate(43.83,19.30) scale(1.0,0.95)" font-size="21.5"> 80</text><path transform="translate(43.83,19.30) scale(21.500,-20.425)" d="M0.346 0L0.240 0L0.240 0.490L0.090 0.490L0.090 0.565C0.170 0.568 0.222 0.585 0.248 0.622C0.265 0.648 0.272 0.680 0.276 0.716L0.346 0.716Z" vector-effect="non-scaling-stroke"/><text transform="translate(43.73,109.05) scale(1.0,0.95)" font-size="21.5"> 30</text><path transform="translate(43.73,109.05) scale(21.500,-20.425)" d="M0.346 0L0.240 0L0.240 0.490L0.090 0.490L0.090 0.565C0.170 0.568 0.222 0.585 0.248 0.622C0.265 0.648 0.272 0.680 0.276 0.716L0.346 0.716Z" vector-effect="non-scaling-stroke"/><text transform="translate(55.79,199.05) scale(1.0,0.95)" font-size="21.5">80</text><text transform="translate(55.79,289.05) scale(1.0,0.95)" font-size="21.5">30</text><text transform="translate(72.44,340.70) scale(1.0,0.95)" font-size="21.5">0</text><text transform="translate(43.03,379.20) scale(1.0,0.95)" font-size="21.5"><tspan dy="2">−</tspan><tspan dy="-2">20</tspan></text><text transform="translate(65.10,403.90) scale(1.0,0.95)" font-size="21.5">6,000</text><text transform="translate(153.86,403.90) scale(1.0,0.95)" font-size="21.5">5,000</text><text transform="translate(242.62,403.90) scale(1.0,0.95)" font-size="21.5">4,000</text><text transform="translate(331.38,403.90) scale(1.0,0.95)" font-size="21.5">3,000</text><text transform="translate(420.14,403.90) scale(1.0,0.95)" font-size="21.5">2,000</text><text transform="translate(508.90,403.90) scale(1.0,0.95)" font-size="21.5"> ,000</text><path transform="translate(508.90,403.90) scale(21.500,-20.425)" d="M0.346 0L0.240 0L0.240 0.490L0.090 0.490L0.090 0.565C0.170 0.568 0.222 0.585 0.248 0.622C0.265 0.648 0.272 0.680 0.276 0.716L0.346 0.716Z" vector-effect="non-scaling-stroke"/><text transform="translate(618.58,403.90) scale(1.0,0.95)" font-size="21.5">0</text><text x="262.1" y="432.7" font-size="21">Y<tspan dx="-0.9">ears before current</tspan></text><g transform="translate(24.0,363.08) rotate(-90)"><text font-size="21.3">Carbon accumulation <tspan dx="0.09">(</tspan><tspan dx="0.13">g</tspan><tspan dx="5.32">m</tspan><tspan font-size="13" dy="-11.5" dx="0.87">–</tspan><tspan font-size="13.4" dy="0.7" dx="1.29">2</tspan><tspan dy="10.8" dx="7.37">yr</tspan><tspan font-size="13" dy="-11.5" dx="-0.5">–</tspan><tspan font-size="13.4" dy="0.7" dx="1.16"> </tspan><tspan dy="10.8" dx="1.13">)</tspan></text><path transform="translate(299.28,-10.8) scale(13.4,-13.4)" d="M0.346 0L0.240 0L0.240 0.490L0.090 0.490L0.090 0.565C0.170 0.568 0.222 0.585 0.248 0.622C0.265 0.648 0.272 0.680 0.276 0.716L0.346 0.716Z" vector-effect="non-scaling-stroke"/></g><line x1="107.8" y1="70.4" x2="142.8" y2="70.4" stroke="#F2A03F" stroke-width="1.5"/><line x1="107.8" y1="93" x2="142.8" y2="93" stroke="#9A90CC" stroke-width="1.6"/><text transform="translate(159.6,76.9) scale(1.14,1)" font-size="16.3">aCAR</text><text transform="translate(159.8,98.3) scale(1.14,1)" font-size="16.3">NCB</text><text x="309.97" y="30.94" font-size="15.6"> 80</text><path transform="translate(309.97,30.94) scale(15.600,-15.600)" d="M0.346 0L0.240 0L0.240 0.490L0.090 0.490L0.090 0.565C0.170 0.568 0.222 0.585 0.248 0.622C0.265 0.648 0.272 0.680 0.276 0.716L0.346 0.716Z" vector-effect="non-scaling-stroke"/><text x="309.97" y="74.80" font-size="15.6"> 30</text><path transform="translate(309.97,74.80) scale(15.600,-15.600)" d="M0.346 0L0.240 0L0.240 0.490L0.090 0.490L0.090 0.565C0.170 0.568 0.222 0.585 0.248 0.622C0.265 0.648 0.272 0.680 0.276 0.716L0.346 0.716Z" vector-effect="non-scaling-stroke"/><text x="318.65" y="118.40" font-size="15.6">80</text><text x="318.65" y="162.53" font-size="15.6">30</text><text x="330.32" y="187.00" font-size="15.6">0</text><text x="309.24" y="206.60" font-size="15.6"><tspan dy="1.5">−</tspan><tspan dy="-1.5">20</tspan></text><text transform="translate(333.48,222.75) scale(1.0,0.92)" font-size="15.911999999999999">300</text><text transform="translate(415.23,222.75) scale(1.0,0.92)" font-size="15.911999999999999">200</text><text transform="translate(496.98,222.75) scale(1.0,0.92)" font-size="15.911999999999999"> 00</text><path transform="translate(496.98,222.75) scale(15.912,-14.639)" d="M0.346 0L0.240 0L0.240 0.490L0.090 0.490L0.090 0.565C0.170 0.568 0.222 0.585 0.248 0.622C0.265 0.648 0.272 0.680 0.276 0.716L0.346 0.716Z" vector-effect="non-scaling-stroke"/><text transform="translate(587.58,222.75) scale(1.0,0.92)" font-size="15.911999999999999">0</text></g></svg>
</body></html>
